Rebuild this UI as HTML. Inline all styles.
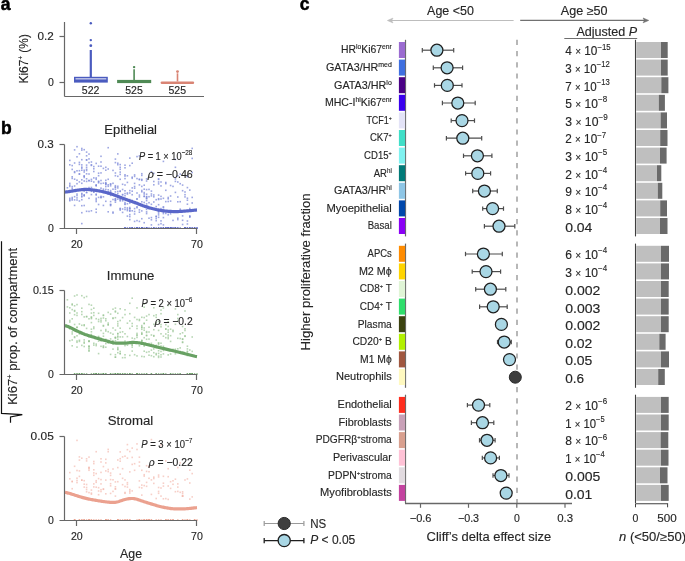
<!DOCTYPE html>
<html><head><meta charset="utf-8"><style>
html,body{margin:0;padding:0;background:#fff;width:685px;height:561px;overflow:hidden}
svg{display:block;font-family:"Liberation Sans", sans-serif;will-change:transform}
text{stroke:#262626;stroke-width:0.14px}
</style></head><body>
<svg width="685" height="561" viewBox="0 0 685 561">
<text x="0.80" y="9.70" font-size="17.5" text-anchor="start" fill="#000" font-weight="bold" style="stroke:#000;stroke-width:0.5px">a</text>
<text x="0.90" y="133.50" font-size="17.5" text-anchor="start" fill="#000" font-weight="bold" style="stroke:#000;stroke-width:0.5px">b</text>
<text x="299.80" y="9.70" font-size="17.5" text-anchor="start" fill="#000" font-weight="bold" style="stroke:#000;stroke-width:0.5px">c</text>
<line x1="64.50" y1="22.00" x2="64.50" y2="96.50" stroke="#676767" stroke-width="1.2" />
<line x1="64.50" y1="96.50" x2="204.00" y2="96.50" stroke="#676767" stroke-width="1.2" />
<line x1="59.50" y1="36.50" x2="64.50" y2="36.50" stroke="#676767" stroke-width="1.2" />
<text x="53.80" y="39.90" font-size="10.5" text-anchor="end" fill="#262626" font-weight="normal" textLength="16.30" lengthAdjust="spacingAndGlyphs" >0.2</text>
<line x1="59.50" y1="82.50" x2="64.50" y2="82.50" stroke="#676767" stroke-width="1.2" />
<text x="53.80" y="85.90" font-size="10.5" text-anchor="end" fill="#262626" font-weight="normal" >0</text>
<text transform="translate(27.6,58.8) rotate(-90)" font-size="12.6" text-anchor="middle" fill="#262626" textLength="49.5" lengthAdjust="spacingAndGlyphs">Ki67<tspan font-size="6.5" dy="-4.8">+</tspan><tspan dy="4.8"> (%)</tspan></text>
<line x1="90.8" y1="50" x2="90.8" y2="77" stroke="#4a5bbf" stroke-width="2.2"/>
<circle cx="90.8" cy="23.3" r="1.2" fill="#4a5bbf"/>
<circle cx="90.8" cy="40.1" r="1.2" fill="#4a5bbf"/>
<circle cx="90.8" cy="45.7" r="1.4" fill="#4a5bbf"/>
<rect x="74.00" y="76.80" width="33.80" height="5.80" fill="#4a5bbf" />
<rect x="75.50" y="78.30" width="30.80" height="1.10" fill="#e4e6f6" />
<line x1="134.1" y1="69.3" x2="134.1" y2="80" stroke="#4f8a55" stroke-width="1.6"/>
<circle cx="134.1" cy="67.1" r="1.2" fill="#4f8a55"/>
<rect x="117.10" y="79.90" width="34.10" height="3.20" fill="#4f8a55" />
<line x1="177.5" y1="73.3" x2="177.5" y2="81.5" stroke="#d98474" stroke-width="1.6"/>
<circle cx="177.5" cy="71.6" r="1.4" fill="#d98474"/>
<rect x="160.6" y="81.5" width="33.6" height="2.6" rx="1.3" fill="#d98474"/>
<text x="90.60" y="94.00" font-size="10.5" text-anchor="middle" fill="#262626" font-weight="normal" textLength="17.60" lengthAdjust="spacingAndGlyphs" >522</text>
<text x="134.00" y="94.00" font-size="10.5" text-anchor="middle" fill="#262626" font-weight="normal" textLength="17.60" lengthAdjust="spacingAndGlyphs" >525</text>
<text x="177.30" y="94.00" font-size="10.5" text-anchor="middle" fill="#262626" font-weight="normal" textLength="17.60" lengthAdjust="spacingAndGlyphs" >525</text>
<text x="104.30" y="133.70" font-size="12" text-anchor="start" fill="#262626" font-weight="normal" textLength="52.70" lengthAdjust="spacingAndGlyphs" >Epithelial</text>
<g fill="#7a86d8" fill-opacity="0.72">
<rect x="119.4" y="168.5" width="1.6" height="1.6"/>
<rect x="81.0" y="222.8" width="1.6" height="1.6"/>
<rect x="191.4" y="147.6" width="1.6" height="1.6"/>
<rect x="109.8" y="200.8" width="1.6" height="1.6"/>
<rect x="88.2" y="186.8" width="1.6" height="1.6"/>
<rect x="81.0" y="198.9" width="1.6" height="1.6"/>
<rect x="114.6" y="191.1" width="1.6" height="1.6"/>
<rect x="93.0" y="177.1" width="1.6" height="1.6"/>
<rect x="133.8" y="187.4" width="1.6" height="1.6"/>
<rect x="109.8" y="194.6" width="1.6" height="1.6"/>
<rect x="100.2" y="179.7" width="1.6" height="1.6"/>
<rect x="124.2" y="206.8" width="1.6" height="1.6"/>
<rect x="167.4" y="211.7" width="1.6" height="1.6"/>
<rect x="85.8" y="173.0" width="1.6" height="1.6"/>
<rect x="81.0" y="195.2" width="1.6" height="1.6"/>
<rect x="131.4" y="176.4" width="1.6" height="1.6"/>
<rect x="189.0" y="215.7" width="1.6" height="1.6"/>
<rect x="157.8" y="209.0" width="1.6" height="1.6"/>
<rect x="191.4" y="209.0" width="1.6" height="1.6"/>
<rect x="117.0" y="190.7" width="1.6" height="1.6"/>
<rect x="71.4" y="177.6" width="1.6" height="1.6"/>
<rect x="114.6" y="161.8" width="1.6" height="1.6"/>
<rect x="131.4" y="162.4" width="1.6" height="1.6"/>
<rect x="107.4" y="146.9" width="1.6" height="1.6"/>
<rect x="145.8" y="205.3" width="1.6" height="1.6"/>
<rect x="97.8" y="180.5" width="1.6" height="1.6"/>
<rect x="131.4" y="187.1" width="1.6" height="1.6"/>
<rect x="71.4" y="199.2" width="1.6" height="1.6"/>
<rect x="107.4" y="184.0" width="1.6" height="1.6"/>
<rect x="157.8" y="198.7" width="1.6" height="1.6"/>
<rect x="109.8" y="191.0" width="1.6" height="1.6"/>
<rect x="109.8" y="189.8" width="1.6" height="1.6"/>
<rect x="76.2" y="194.8" width="1.6" height="1.6"/>
<rect x="145.8" y="203.1" width="1.6" height="1.6"/>
<rect x="160.2" y="207.8" width="1.6" height="1.6"/>
<rect x="138.6" y="209.1" width="1.6" height="1.6"/>
<rect x="81.0" y="149.3" width="1.6" height="1.6"/>
<rect x="100.2" y="196.7" width="1.6" height="1.6"/>
<rect x="181.8" y="184.3" width="1.6" height="1.6"/>
<rect x="126.6" y="207.1" width="1.6" height="1.6"/>
<rect x="114.6" y="158.3" width="1.6" height="1.6"/>
<rect x="145.8" y="197.4" width="1.6" height="1.6"/>
<rect x="88.2" y="161.8" width="1.6" height="1.6"/>
<rect x="71.4" y="185.8" width="1.6" height="1.6"/>
<rect x="129.0" y="208.0" width="1.6" height="1.6"/>
<rect x="129.0" y="189.8" width="1.6" height="1.6"/>
<rect x="112.2" y="211.3" width="1.6" height="1.6"/>
<rect x="117.0" y="198.3" width="1.6" height="1.6"/>
<rect x="129.0" y="215.8" width="1.6" height="1.6"/>
<rect x="85.8" y="159.1" width="1.6" height="1.6"/>
<rect x="78.6" y="163.6" width="1.6" height="1.6"/>
<rect x="136.2" y="206.9" width="1.6" height="1.6"/>
<rect x="83.4" y="194.1" width="1.6" height="1.6"/>
<rect x="73.8" y="162.2" width="1.6" height="1.6"/>
<rect x="124.2" y="203.6" width="1.6" height="1.6"/>
<rect x="129.0" y="200.6" width="1.6" height="1.6"/>
<rect x="131.4" y="193.9" width="1.6" height="1.6"/>
<rect x="136.2" y="198.3" width="1.6" height="1.6"/>
<rect x="119.4" y="171.3" width="1.6" height="1.6"/>
<rect x="78.6" y="169.9" width="1.6" height="1.6"/>
<rect x="85.8" y="166.5" width="1.6" height="1.6"/>
<rect x="145.8" y="193.4" width="1.6" height="1.6"/>
<rect x="162.6" y="160.6" width="1.6" height="1.6"/>
<rect x="138.6" y="155.1" width="1.6" height="1.6"/>
<rect x="119.4" y="190.3" width="1.6" height="1.6"/>
<rect x="184.2" y="196.1" width="1.6" height="1.6"/>
<rect x="179.4" y="208.4" width="1.6" height="1.6"/>
<rect x="143.4" y="188.4" width="1.6" height="1.6"/>
<rect x="191.4" y="157.6" width="1.6" height="1.6"/>
<rect x="76.2" y="145.9" width="1.6" height="1.6"/>
<rect x="143.4" y="195.4" width="1.6" height="1.6"/>
<rect x="179.4" y="182.9" width="1.6" height="1.6"/>
<rect x="112.2" y="198.7" width="1.6" height="1.6"/>
<rect x="157.8" y="210.2" width="1.6" height="1.6"/>
<rect x="95.4" y="162.6" width="1.6" height="1.6"/>
<rect x="93.0" y="168.0" width="1.6" height="1.6"/>
<rect x="133.8" y="201.5" width="1.6" height="1.6"/>
<rect x="119.4" y="207.6" width="1.6" height="1.6"/>
<rect x="117.0" y="162.4" width="1.6" height="1.6"/>
<rect x="167.4" y="200.7" width="1.6" height="1.6"/>
<rect x="150.6" y="190.3" width="1.6" height="1.6"/>
<rect x="179.4" y="200.9" width="1.6" height="1.6"/>
<rect x="165.0" y="212.6" width="1.6" height="1.6"/>
<rect x="124.2" y="201.7" width="1.6" height="1.6"/>
<rect x="119.4" y="163.8" width="1.6" height="1.6"/>
<rect x="186.6" y="197.4" width="1.6" height="1.6"/>
<rect x="174.6" y="178.1" width="1.6" height="1.6"/>
<rect x="114.6" y="186.8" width="1.6" height="1.6"/>
<rect x="157.8" y="223.8" width="1.6" height="1.6"/>
<rect x="165.0" y="181.7" width="1.6" height="1.6"/>
<rect x="160.2" y="198.2" width="1.6" height="1.6"/>
<rect x="112.2" y="169.6" width="1.6" height="1.6"/>
<rect x="138.6" y="203.4" width="1.6" height="1.6"/>
<rect x="81.0" y="182.5" width="1.6" height="1.6"/>
<rect x="124.2" y="164.4" width="1.6" height="1.6"/>
<rect x="83.4" y="175.4" width="1.6" height="1.6"/>
<rect x="133.8" y="175.6" width="1.6" height="1.6"/>
<rect x="153.0" y="194.2" width="1.6" height="1.6"/>
<rect x="93.0" y="191.1" width="1.6" height="1.6"/>
<rect x="95.4" y="194.2" width="1.6" height="1.6"/>
<rect x="95.4" y="197.6" width="1.6" height="1.6"/>
<rect x="119.4" y="199.1" width="1.6" height="1.6"/>
<rect x="124.2" y="177.8" width="1.6" height="1.6"/>
<rect x="83.4" y="204.7" width="1.6" height="1.6"/>
<rect x="150.6" y="206.9" width="1.6" height="1.6"/>
<rect x="95.4" y="184.1" width="1.6" height="1.6"/>
<rect x="133.8" y="182.6" width="1.6" height="1.6"/>
<rect x="107.4" y="193.1" width="1.6" height="1.6"/>
<rect x="114.6" y="198.0" width="1.6" height="1.6"/>
<rect x="191.4" y="202.2" width="1.6" height="1.6"/>
<rect x="155.4" y="215.4" width="1.6" height="1.6"/>
<rect x="97.8" y="165.4" width="1.6" height="1.6"/>
<rect x="150.6" y="216.8" width="1.6" height="1.6"/>
<rect x="131.4" y="190.4" width="1.6" height="1.6"/>
<rect x="126.6" y="193.2" width="1.6" height="1.6"/>
<rect x="189.0" y="216.3" width="1.6" height="1.6"/>
<rect x="131.4" y="210.0" width="1.6" height="1.6"/>
<rect x="109.8" y="183.2" width="1.6" height="1.6"/>
<rect x="160.2" y="185.1" width="1.6" height="1.6"/>
<rect x="138.6" y="196.1" width="1.6" height="1.6"/>
<rect x="155.4" y="217.8" width="1.6" height="1.6"/>
<rect x="181.8" y="219.5" width="1.6" height="1.6"/>
<rect x="153.0" y="180.7" width="1.6" height="1.6"/>
<rect x="150.6" y="170.9" width="1.6" height="1.6"/>
<rect x="81.0" y="147.7" width="1.6" height="1.6"/>
<rect x="157.8" y="214.1" width="1.6" height="1.6"/>
<rect x="85.8" y="178.0" width="1.6" height="1.6"/>
<rect x="153.0" y="184.0" width="1.6" height="1.6"/>
<rect x="138.6" y="184.1" width="1.6" height="1.6"/>
<rect x="141.0" y="174.6" width="1.6" height="1.6"/>
<rect x="131.4" y="177.5" width="1.6" height="1.6"/>
<rect x="119.4" y="200.1" width="1.6" height="1.6"/>
<rect x="129.0" y="210.1" width="1.6" height="1.6"/>
<rect x="83.4" y="189.0" width="1.6" height="1.6"/>
<rect x="107.4" y="168.2" width="1.6" height="1.6"/>
<rect x="124.2" y="167.0" width="1.6" height="1.6"/>
<rect x="177.0" y="217.4" width="1.6" height="1.6"/>
<rect x="186.6" y="175.1" width="1.6" height="1.6"/>
<rect x="174.6" y="191.6" width="1.6" height="1.6"/>
<rect x="114.6" y="199.6" width="1.6" height="1.6"/>
<rect x="71.4" y="197.9" width="1.6" height="1.6"/>
<rect x="160.2" y="220.1" width="1.6" height="1.6"/>
<rect x="81.0" y="158.9" width="1.6" height="1.6"/>
<rect x="69.0" y="159.6" width="1.6" height="1.6"/>
<rect x="76.2" y="193.3" width="1.6" height="1.6"/>
<rect x="124.2" y="184.2" width="1.6" height="1.6"/>
<rect x="76.2" y="197.1" width="1.6" height="1.6"/>
<rect x="141.0" y="178.6" width="1.6" height="1.6"/>
<rect x="126.6" y="215.3" width="1.6" height="1.6"/>
<rect x="95.4" y="211.5" width="1.6" height="1.6"/>
<rect x="95.4" y="184.8" width="1.6" height="1.6"/>
<rect x="121.8" y="208.2" width="1.6" height="1.6"/>
<rect x="169.8" y="200.3" width="1.6" height="1.6"/>
<rect x="189.0" y="215.2" width="1.6" height="1.6"/>
<rect x="102.6" y="189.6" width="1.6" height="1.6"/>
<rect x="88.2" y="179.9" width="1.6" height="1.6"/>
<rect x="105.0" y="169.4" width="1.6" height="1.6"/>
<rect x="85.8" y="151.3" width="1.6" height="1.6"/>
<rect x="150.6" y="219.0" width="1.6" height="1.6"/>
<rect x="129.0" y="202.2" width="1.6" height="1.6"/>
<rect x="107.4" y="178.5" width="1.6" height="1.6"/>
<rect x="78.6" y="200.2" width="1.6" height="1.6"/>
<rect x="73.8" y="204.6" width="1.6" height="1.6"/>
<rect x="153.0" y="172.6" width="1.6" height="1.6"/>
<rect x="133.8" y="213.2" width="1.6" height="1.6"/>
<rect x="105.0" y="183.1" width="1.6" height="1.6"/>
<rect x="141.0" y="172.9" width="1.6" height="1.6"/>
<rect x="81.0" y="164.1" width="1.6" height="1.6"/>
<rect x="121.8" y="188.7" width="1.6" height="1.6"/>
<rect x="177.0" y="196.2" width="1.6" height="1.6"/>
<rect x="155.4" y="205.8" width="1.6" height="1.6"/>
<rect x="105.0" y="200.5" width="1.6" height="1.6"/>
<rect x="121.8" y="197.2" width="1.6" height="1.6"/>
<rect x="85.8" y="180.6" width="1.6" height="1.6"/>
<rect x="85.8" y="168.5" width="1.6" height="1.6"/>
<rect x="112.2" y="182.5" width="1.6" height="1.6"/>
<rect x="143.4" y="221.9" width="1.6" height="1.6"/>
<rect x="90.6" y="164.6" width="1.6" height="1.6"/>
<rect x="81.0" y="196.1" width="1.6" height="1.6"/>
<rect x="71.4" y="196.7" width="1.6" height="1.6"/>
<rect x="177.0" y="211.3" width="1.6" height="1.6"/>
<rect x="119.4" y="190.6" width="1.6" height="1.6"/>
<rect x="177.0" y="218.8" width="1.6" height="1.6"/>
<rect x="157.8" y="178.6" width="1.6" height="1.6"/>
<rect x="109.8" y="204.8" width="1.6" height="1.6"/>
<rect x="76.2" y="199.2" width="1.6" height="1.6"/>
<rect x="78.6" y="161.6" width="1.6" height="1.6"/>
<rect x="97.8" y="196.6" width="1.6" height="1.6"/>
<rect x="186.6" y="175.9" width="1.6" height="1.6"/>
<rect x="143.4" y="184.4" width="1.6" height="1.6"/>
<rect x="162.6" y="224.1" width="1.6" height="1.6"/>
<rect x="73.8" y="189.4" width="1.6" height="1.6"/>
<rect x="85.8" y="191.9" width="1.6" height="1.6"/>
<rect x="162.6" y="206.1" width="1.6" height="1.6"/>
<rect x="153.0" y="196.0" width="1.6" height="1.6"/>
<rect x="83.4" y="190.3" width="1.6" height="1.6"/>
<rect x="133.8" y="220.6" width="1.6" height="1.6"/>
<rect x="131.4" y="199.7" width="1.6" height="1.6"/>
<rect x="141.0" y="189.7" width="1.6" height="1.6"/>
<rect x="88.2" y="210.6" width="1.6" height="1.6"/>
<rect x="102.6" y="191.7" width="1.6" height="1.6"/>
<rect x="133.8" y="210.7" width="1.6" height="1.6"/>
<rect x="145.8" y="211.1" width="1.6" height="1.6"/>
<rect x="124.2" y="194.9" width="1.6" height="1.6"/>
<rect x="88.2" y="197.5" width="1.6" height="1.6"/>
<rect x="160.2" y="195.6" width="1.6" height="1.6"/>
<rect x="119.4" y="166.5" width="1.6" height="1.6"/>
<rect x="126.6" y="209.8" width="1.6" height="1.6"/>
<rect x="143.4" y="195.7" width="1.6" height="1.6"/>
<rect x="90.6" y="164.0" width="1.6" height="1.6"/>
<rect x="141.0" y="201.0" width="1.6" height="1.6"/>
<rect x="102.6" y="204.6" width="1.6" height="1.6"/>
<rect x="157.8" y="210.9" width="1.6" height="1.6"/>
<rect x="93.0" y="181.2" width="1.6" height="1.6"/>
<rect x="71.4" y="176.0" width="1.6" height="1.6"/>
<rect x="186.6" y="199.4" width="1.6" height="1.6"/>
<rect x="121.8" y="183.5" width="1.6" height="1.6"/>
<rect x="83.4" y="195.1" width="1.6" height="1.6"/>
<rect x="85.8" y="159.2" width="1.6" height="1.6"/>
<rect x="71.4" y="189.7" width="1.6" height="1.6"/>
<rect x="119.4" y="178.5" width="1.6" height="1.6"/>
<rect x="136.2" y="177.8" width="1.6" height="1.6"/>
<rect x="169.8" y="213.0" width="1.6" height="1.6"/>
<rect x="83.4" y="194.5" width="1.6" height="1.6"/>
<rect x="162.6" y="206.6" width="1.6" height="1.6"/>
<rect x="93.0" y="165.8" width="1.6" height="1.6"/>
<rect x="93.0" y="189.0" width="1.6" height="1.6"/>
<rect x="169.8" y="195.2" width="1.6" height="1.6"/>
<rect x="114.6" y="199.5" width="1.6" height="1.6"/>
<rect x="117.0" y="192.8" width="1.6" height="1.6"/>
<rect x="114.6" y="198.3" width="1.6" height="1.6"/>
<rect x="133.8" y="174.1" width="1.6" height="1.6"/>
<rect x="157.8" y="181.2" width="1.6" height="1.6"/>
<rect x="105.0" y="166.5" width="1.6" height="1.6"/>
<rect x="157.8" y="212.3" width="1.6" height="1.6"/>
<rect x="73.8" y="195.9" width="1.6" height="1.6"/>
<rect x="69.0" y="198.9" width="1.6" height="1.6"/>
<rect x="81.0" y="167.4" width="1.6" height="1.6"/>
<rect x="167.4" y="214.0" width="1.6" height="1.6"/>
<rect x="172.2" y="210.3" width="1.6" height="1.6"/>
<rect x="162.6" y="210.6" width="1.6" height="1.6"/>
<rect x="73.8" y="178.4" width="1.6" height="1.6"/>
<rect x="136.2" y="198.1" width="1.6" height="1.6"/>
<rect x="150.6" y="193.2" width="1.6" height="1.6"/>
<rect x="148.2" y="188.6" width="1.6" height="1.6"/>
<rect x="141.0" y="217.9" width="1.6" height="1.6"/>
<rect x="95.4" y="193.4" width="1.6" height="1.6"/>
<rect x="141.0" y="185.6" width="1.6" height="1.6"/>
<rect x="145.8" y="188.8" width="1.6" height="1.6"/>
<rect x="141.0" y="179.5" width="1.6" height="1.6"/>
<rect x="81.0" y="179.0" width="1.6" height="1.6"/>
<rect x="85.8" y="169.7" width="1.6" height="1.6"/>
<rect x="73.8" y="199.1" width="1.6" height="1.6"/>
<rect x="124.2" y="208.7" width="1.6" height="1.6"/>
<rect x="85.8" y="164.3" width="1.6" height="1.6"/>
<rect x="78.6" y="153.0" width="1.6" height="1.6"/>
<rect x="100.2" y="172.1" width="1.6" height="1.6"/>
<rect x="145.8" y="195.7" width="1.6" height="1.6"/>
<rect x="109.8" y="203.6" width="1.6" height="1.6"/>
<rect x="69.0" y="185.6" width="1.6" height="1.6"/>
<rect x="97.8" y="174.9" width="1.6" height="1.6"/>
<rect x="150.6" y="203.5" width="1.6" height="1.6"/>
<rect x="126.6" y="181.6" width="1.6" height="1.6"/>
<rect x="136.2" y="155.8" width="1.6" height="1.6"/>
<rect x="138.6" y="194.3" width="1.6" height="1.6"/>
<rect x="181.8" y="215.1" width="1.6" height="1.6"/>
<rect x="184.2" y="191.2" width="1.6" height="1.6"/>
<rect x="153.0" y="207.6" width="1.6" height="1.6"/>
<rect x="95.4" y="184.8" width="1.6" height="1.6"/>
<rect x="143.4" y="201.7" width="1.6" height="1.6"/>
<rect x="129.0" y="207.9" width="1.6" height="1.6"/>
<rect x="100.2" y="155.5" width="1.6" height="1.6"/>
<rect x="71.4" y="191.0" width="1.6" height="1.6"/>
<rect x="71.4" y="164.8" width="1.6" height="1.6"/>
<rect x="155.4" y="198.9" width="1.6" height="1.6"/>
<rect x="121.8" y="200.0" width="1.6" height="1.6"/>
<rect x="145.8" y="199.8" width="1.6" height="1.6"/>
<rect x="95.4" y="200.7" width="1.6" height="1.6"/>
<rect x="165.0" y="182.8" width="1.6" height="1.6"/>
<rect x="114.6" y="194.7" width="1.6" height="1.6"/>
<rect x="136.2" y="206.0" width="1.6" height="1.6"/>
<rect x="148.2" y="195.9" width="1.6" height="1.6"/>
<rect x="136.2" y="219.8" width="1.6" height="1.6"/>
<rect x="109.8" y="203.9" width="1.6" height="1.6"/>
<rect x="119.4" y="209.3" width="1.6" height="1.6"/>
<rect x="129.0" y="206.7" width="1.6" height="1.6"/>
<rect x="102.6" y="167.6" width="1.6" height="1.6"/>
<rect x="102.6" y="188.3" width="1.6" height="1.6"/>
<rect x="78.6" y="173.2" width="1.6" height="1.6"/>
<rect x="172.2" y="185.6" width="1.6" height="1.6"/>
<rect x="100.2" y="182.7" width="1.6" height="1.6"/>
<rect x="90.6" y="180.4" width="1.6" height="1.6"/>
<rect x="107.4" y="211.0" width="1.6" height="1.6"/>
<rect x="162.6" y="197.5" width="1.6" height="1.6"/>
<rect x="124.2" y="192.7" width="1.6" height="1.6"/>
<rect x="162.6" y="216.8" width="1.6" height="1.6"/>
<rect x="105.0" y="182.6" width="1.6" height="1.6"/>
<rect x="117.0" y="175.5" width="1.6" height="1.6"/>
<rect x="73.8" y="170.9" width="1.6" height="1.6"/>
<rect x="102.6" y="196.0" width="1.6" height="1.6"/>
<rect x="157.8" y="194.3" width="1.6" height="1.6"/>
<rect x="105.0" y="185.8" width="1.6" height="1.6"/>
<rect x="95.4" y="178.5" width="1.6" height="1.6"/>
<rect x="177.0" y="210.0" width="1.6" height="1.6"/>
<rect x="126.6" y="175.0" width="1.6" height="1.6"/>
<rect x="186.6" y="220.2" width="1.6" height="1.6"/>
<rect x="143.4" y="191.8" width="1.6" height="1.6"/>
<rect x="112.2" y="188.4" width="1.6" height="1.6"/>
<rect x="114.6" y="172.2" width="1.6" height="1.6"/>
<rect x="121.8" y="198.7" width="1.6" height="1.6"/>
<rect x="90.6" y="189.7" width="1.6" height="1.6"/>
<rect x="145.8" y="178.1" width="1.6" height="1.6"/>
<rect x="148.2" y="207.8" width="1.6" height="1.6"/>
<rect x="126.6" y="192.1" width="1.6" height="1.6"/>
<rect x="174.6" y="158.6" width="1.6" height="1.6"/>
<rect x="97.8" y="172.4" width="1.6" height="1.6"/>
<rect x="100.2" y="161.2" width="1.6" height="1.6"/>
<rect x="177.0" y="181.2" width="1.6" height="1.6"/>
<rect x="121.8" y="193.7" width="1.6" height="1.6"/>
<rect x="90.6" y="178.6" width="1.6" height="1.6"/>
<rect x="97.8" y="180.9" width="1.6" height="1.6"/>
<rect x="143.4" y="193.2" width="1.6" height="1.6"/>
<rect x="162.6" y="211.4" width="1.6" height="1.6"/>
<rect x="129.0" y="157.3" width="1.6" height="1.6"/>
<rect x="88.2" y="153.3" width="1.6" height="1.6"/>
<rect x="114.6" y="186.1" width="1.6" height="1.6"/>
<rect x="141.0" y="191.0" width="1.6" height="1.6"/>
<rect x="121.8" y="211.6" width="1.6" height="1.6"/>
<rect x="145.8" y="196.3" width="1.6" height="1.6"/>
<rect x="88.2" y="179.7" width="1.6" height="1.6"/>
<rect x="138.6" y="220.6" width="1.6" height="1.6"/>
<rect x="69.0" y="197.5" width="1.6" height="1.6"/>
<rect x="114.6" y="174.9" width="1.6" height="1.6"/>
<rect x="138.6" y="178.8" width="1.6" height="1.6"/>
<rect x="129.0" y="192.2" width="1.6" height="1.6"/>
<rect x="73.8" y="185.2" width="1.6" height="1.6"/>
<rect x="81.0" y="166.3" width="1.6" height="1.6"/>
<rect x="95.4" y="199.1" width="1.6" height="1.6"/>
<rect x="81.0" y="169.4" width="1.6" height="1.6"/>
<rect x="150.6" y="224.1" width="1.6" height="1.6"/>
<rect x="93.0" y="170.7" width="1.6" height="1.6"/>
<rect x="145.8" y="212.8" width="1.6" height="1.6"/>
<rect x="88.2" y="158.1" width="1.6" height="1.6"/>
<rect x="141.0" y="210.1" width="1.6" height="1.6"/>
<rect x="153.0" y="201.2" width="1.6" height="1.6"/>
<rect x="109.8" y="183.4" width="1.6" height="1.6"/>
<rect x="117.0" y="187.1" width="1.6" height="1.6"/>
<rect x="100.2" y="187.4" width="1.6" height="1.6"/>
<rect x="100.2" y="196.6" width="1.6" height="1.6"/>
<rect x="191.4" y="210.1" width="1.6" height="1.6"/>
<rect x="107.4" y="191.0" width="1.6" height="1.6"/>
<rect x="172.2" y="219.6" width="1.6" height="1.6"/>
<rect x="129.0" y="213.8" width="1.6" height="1.6"/>
<rect x="181.8" y="189.9" width="1.6" height="1.6"/>
<rect x="126.6" y="208.5" width="1.6" height="1.6"/>
<rect x="78.6" y="173.2" width="1.6" height="1.6"/>
<rect x="73.8" y="149.1" width="1.6" height="1.6"/>
<rect x="90.6" y="161.2" width="1.6" height="1.6"/>
<rect x="83.4" y="148.9" width="1.6" height="1.6"/>
<rect x="85.8" y="191.4" width="1.6" height="1.6"/>
<rect x="181.8" y="223.7" width="1.6" height="1.6"/>
<rect x="121.8" y="194.1" width="1.6" height="1.6"/>
<rect x="66.6" y="187.0" width="1.6" height="1.6"/>
<rect x="90.6" y="210.0" width="1.6" height="1.6"/>
<rect x="129.0" y="164.8" width="1.6" height="1.6"/>
<rect x="162.6" y="212.8" width="1.6" height="1.6"/>
<rect x="95.4" y="208.4" width="1.6" height="1.6"/>
<rect x="105.0" y="181.9" width="1.6" height="1.6"/>
<rect x="119.4" y="198.4" width="1.6" height="1.6"/>
<rect x="76.2" y="156.0" width="1.6" height="1.6"/>
<rect x="165.0" y="189.5" width="1.6" height="1.6"/>
<rect x="124.2" y="174.0" width="1.6" height="1.6"/>
<rect x="157.8" y="203.9" width="1.6" height="1.6"/>
<rect x="129.0" y="198.8" width="1.6" height="1.6"/>
<rect x="93.0" y="189.7" width="1.6" height="1.6"/>
<rect x="169.8" y="184.7" width="1.6" height="1.6"/>
<rect x="81.0" y="192.7" width="1.6" height="1.6"/>
<rect x="133.8" y="207.8" width="1.6" height="1.6"/>
<rect x="114.6" y="184.9" width="1.6" height="1.6"/>
<rect x="90.6" y="193.8" width="1.6" height="1.6"/>
<rect x="167.4" y="196.7" width="1.6" height="1.6"/>
<rect x="93.0" y="191.2" width="1.6" height="1.6"/>
<rect x="90.6" y="190.5" width="1.6" height="1.6"/>
<rect x="157.8" y="183.1" width="1.6" height="1.6"/>
<rect x="124.2" y="175.3" width="1.6" height="1.6"/>
<rect x="126.6" y="203.0" width="1.6" height="1.6"/>
<rect x="160.2" y="181.2" width="1.6" height="1.6"/>
<rect x="155.4" y="216.0" width="1.6" height="1.6"/>
<rect x="145.8" y="208.6" width="1.6" height="1.6"/>
<rect x="129.0" y="210.1" width="1.6" height="1.6"/>
<rect x="157.8" y="197.9" width="1.6" height="1.6"/>
<rect x="107.4" y="185.5" width="1.6" height="1.6"/>
<rect x="157.8" y="216.5" width="1.6" height="1.6"/>
<rect x="97.8" y="203.7" width="1.6" height="1.6"/>
<rect x="165.0" y="200.8" width="1.6" height="1.6"/>
<rect x="71.4" y="168.6" width="1.6" height="1.6"/>
<rect x="114.6" y="201.4" width="1.6" height="1.6"/>
<rect x="83.4" y="175.2" width="1.6" height="1.6"/>
<rect x="76.2" y="182.9" width="1.6" height="1.6"/>
<rect x="90.6" y="186.7" width="1.6" height="1.6"/>
<rect x="95.4" y="177.2" width="1.6" height="1.6"/>
<rect x="105.0" y="183.8" width="1.6" height="1.6"/>
<rect x="124.2" y="203.1" width="1.6" height="1.6"/>
<rect x="73.8" y="171.7" width="1.6" height="1.6"/>
<rect x="88.2" y="173.2" width="1.6" height="1.6"/>
<rect x="155.4" y="219.9" width="1.6" height="1.6"/>
<rect x="117.0" y="185.5" width="1.6" height="1.6"/>
<rect x="160.2" y="222.9" width="1.6" height="1.6"/>
<rect x="107.4" y="189.0" width="1.6" height="1.6"/>
<rect x="189.0" y="189.3" width="1.6" height="1.6"/>
<rect x="105.0" y="188.6" width="1.6" height="1.6"/>
<rect x="107.4" y="193.0" width="1.6" height="1.6"/>
<rect x="100.2" y="165.4" width="1.6" height="1.6"/>
<rect x="145.8" y="180.2" width="1.6" height="1.6"/>
<rect x="102.6" y="182.4" width="1.6" height="1.6"/>
<rect x="117.0" y="163.9" width="1.6" height="1.6"/>
<rect x="189.0" y="207.7" width="1.6" height="1.6"/>
<rect x="78.6" y="189.3" width="1.6" height="1.6"/>
<rect x="138.6" y="178.5" width="1.6" height="1.6"/>
<rect x="100.2" y="195.6" width="1.6" height="1.6"/>
<rect x="162.6" y="208.6" width="1.6" height="1.6"/>
<rect x="78.6" y="181.1" width="1.6" height="1.6"/>
<rect x="83.4" y="171.2" width="1.6" height="1.6"/>
<rect x="148.2" y="201.9" width="1.6" height="1.6"/>
<rect x="76.2" y="179.4" width="1.6" height="1.6"/>
<rect x="186.6" y="203.4" width="1.6" height="1.6"/>
<rect x="177.0" y="201.0" width="1.6" height="1.6"/>
<rect x="83.4" y="169.5" width="1.6" height="1.6"/>
<rect x="69.0" y="164.0" width="1.6" height="1.6"/>
<rect x="69.0" y="199.9" width="1.6" height="1.6"/>
<rect x="167.4" y="198.0" width="1.6" height="1.6"/>
<rect x="191.4" y="171.7" width="1.6" height="1.6"/>
<rect x="69.0" y="182.6" width="1.6" height="1.6"/>
<rect x="85.8" y="210.5" width="1.6" height="1.6"/>
<rect x="133.8" y="185.7" width="1.6" height="1.6"/>
<rect x="69.0" y="184.3" width="1.6" height="1.6"/>
<rect x="145.8" y="205.4" width="1.6" height="1.6"/>
<rect x="174.6" y="180.6" width="1.6" height="1.6"/>
<rect x="81.0" y="204.9" width="1.6" height="1.6"/>
<rect x="109.8" y="185.0" width="1.6" height="1.6"/>
<rect x="119.4" y="173.6" width="1.6" height="1.6"/>
<rect x="177.0" y="175.0" width="1.6" height="1.6"/>
<rect x="186.6" y="186.8" width="1.6" height="1.6"/>
<rect x="76.2" y="170.0" width="1.6" height="1.6"/>
<rect x="150.6" y="195.1" width="1.6" height="1.6"/>
<rect x="71.4" y="187.5" width="1.6" height="1.6"/>
<rect x="138.6" y="211.4" width="1.6" height="1.6"/>
<rect x="184.2" y="193.9" width="1.6" height="1.6"/>
<rect x="85.8" y="155.0" width="1.6" height="1.6"/>
<rect x="97.8" y="182.0" width="1.6" height="1.6"/>
<rect x="136.2" y="192.2" width="1.6" height="1.6"/>
<rect x="191.4" y="196.6" width="1.6" height="1.6"/>
<rect x="174.6" y="166.5" width="1.6" height="1.6"/>
<rect x="112.2" y="212.3" width="1.6" height="1.6"/>
<rect x="78.6" y="189.5" width="1.6" height="1.6"/>
<rect x="105.0" y="179.5" width="1.6" height="1.6"/>
<rect x="148.2" y="217.4" width="1.6" height="1.6"/>
<rect x="157.8" y="178.1" width="1.6" height="1.6"/>
<rect x="83.4" y="180.2" width="1.6" height="1.6"/>
<rect x="145.8" y="197.9" width="1.6" height="1.6"/>
<rect x="114.6" y="188.5" width="1.6" height="1.6"/>
<rect x="179.4" y="173.3" width="1.6" height="1.6"/>
<rect x="119.4" y="208.2" width="1.6" height="1.6"/>
<rect x="81.0" y="193.5" width="1.6" height="1.6"/>
<rect x="81.0" y="211.9" width="1.6" height="1.6"/>
<rect x="186.6" y="223.2" width="1.6" height="1.6"/>
<rect x="124.2" y="190.0" width="1.6" height="1.6"/>
<rect x="129.0" y="218.8" width="1.6" height="1.6"/>
<rect x="117.0" y="153.1" width="1.6" height="1.6"/>
<rect x="83.4" y="176.6" width="1.6" height="1.6"/>
</g>
<g fill="#5a67c9" fill-opacity="0.8">
<rect x="169.9" y="227.2" width="1.4" height="1.8"/>
<rect x="167.5" y="227.2" width="1.4" height="1.8"/>
<rect x="193.9" y="227.2" width="1.4" height="1.8"/>
<rect x="141.1" y="227.2" width="1.4" height="1.8"/>
<rect x="169.9" y="227.2" width="1.4" height="1.8"/>
<rect x="141.1" y="227.2" width="1.4" height="1.8"/>
<rect x="167.5" y="227.2" width="1.4" height="1.8"/>
<rect x="169.9" y="227.2" width="1.4" height="1.8"/>
<rect x="148.3" y="227.2" width="1.4" height="1.8"/>
<rect x="131.5" y="227.2" width="1.4" height="1.8"/>
<rect x="153.1" y="227.2" width="1.4" height="1.8"/>
<rect x="169.9" y="227.2" width="1.4" height="1.8"/>
<rect x="167.5" y="227.2" width="1.4" height="1.8"/>
<rect x="145.9" y="227.2" width="1.4" height="1.8"/>
<rect x="141.1" y="227.2" width="1.4" height="1.8"/>
<rect x="172.3" y="227.2" width="1.4" height="1.8"/>
<rect x="153.1" y="227.2" width="1.4" height="1.8"/>
<rect x="189.1" y="227.2" width="1.4" height="1.8"/>
<rect x="136.3" y="227.2" width="1.4" height="1.8"/>
<rect x="179.5" y="227.2" width="1.4" height="1.8"/>
<rect x="189.1" y="227.2" width="1.4" height="1.8"/>
<rect x="141.1" y="227.2" width="1.4" height="1.8"/>
<rect x="174.7" y="227.2" width="1.4" height="1.8"/>
<rect x="124.3" y="227.2" width="1.4" height="1.8"/>
<rect x="141.1" y="227.2" width="1.4" height="1.8"/>
<rect x="150.7" y="227.2" width="1.4" height="1.8"/>
<rect x="131.5" y="227.2" width="1.4" height="1.8"/>
<rect x="155.5" y="227.2" width="1.4" height="1.8"/>
<rect x="133.9" y="227.2" width="1.4" height="1.8"/>
<rect x="189.1" y="227.2" width="1.4" height="1.8"/>
<rect x="184.3" y="227.2" width="1.4" height="1.8"/>
<rect x="165.1" y="227.2" width="1.4" height="1.8"/>
<rect x="145.9" y="227.2" width="1.4" height="1.8"/>
<rect x="162.7" y="227.2" width="1.4" height="1.8"/>
<rect x="191.5" y="227.2" width="1.4" height="1.8"/>
<rect x="169.9" y="227.2" width="1.4" height="1.8"/>
<rect x="186.7" y="227.2" width="1.4" height="1.8"/>
<rect x="165.1" y="227.2" width="1.4" height="1.8"/>
<rect x="126.7" y="227.2" width="1.4" height="1.8"/>
<rect x="174.7" y="227.2" width="1.4" height="1.8"/>
<rect x="136.3" y="227.2" width="1.4" height="1.8"/>
<rect x="165.1" y="227.2" width="1.4" height="1.8"/>
<rect x="184.3" y="227.2" width="1.4" height="1.8"/>
<rect x="165.1" y="227.2" width="1.4" height="1.8"/>
<rect x="169.9" y="227.2" width="1.4" height="1.8"/>
<rect x="141.1" y="227.2" width="1.4" height="1.8"/>
<rect x="145.9" y="227.2" width="1.4" height="1.8"/>
<rect x="131.5" y="227.2" width="1.4" height="1.8"/>
<rect x="167.5" y="227.2" width="1.4" height="1.8"/>
<rect x="157.9" y="227.2" width="1.4" height="1.8"/>
<rect x="145.9" y="227.2" width="1.4" height="1.8"/>
<rect x="191.5" y="227.2" width="1.4" height="1.8"/>
<rect x="131.5" y="227.2" width="1.4" height="1.8"/>
<rect x="196.3" y="227.2" width="1.4" height="1.8"/>
<rect x="193.9" y="227.2" width="1.4" height="1.8"/>
<rect x="145.9" y="227.2" width="1.4" height="1.8"/>
<rect x="124.3" y="227.2" width="1.4" height="1.8"/>
<rect x="167.5" y="227.2" width="1.4" height="1.8"/>
<rect x="153.1" y="227.2" width="1.4" height="1.8"/>
<rect x="162.7" y="227.2" width="1.4" height="1.8"/>
<rect x="193.9" y="227.2" width="1.4" height="1.8"/>
<rect x="157.9" y="227.2" width="1.4" height="1.8"/>
<rect x="160.3" y="227.2" width="1.4" height="1.8"/>
<rect x="136.3" y="227.2" width="1.4" height="1.8"/>
<rect x="196.3" y="227.2" width="1.4" height="1.8"/>
<rect x="184.3" y="227.2" width="1.4" height="1.8"/>
<rect x="169.9" y="227.2" width="1.4" height="1.8"/>
<rect x="129.1" y="227.2" width="1.4" height="1.8"/>
<rect x="177.1" y="227.2" width="1.4" height="1.8"/>
<rect x="141.1" y="227.2" width="1.4" height="1.8"/>
<rect x="174.7" y="227.2" width="1.4" height="1.8"/>
<rect x="143.5" y="227.2" width="1.4" height="1.8"/>
<rect x="186.7" y="227.2" width="1.4" height="1.8"/>
<rect x="138.7" y="227.2" width="1.4" height="1.8"/>
<rect x="124.3" y="227.2" width="1.4" height="1.8"/>
<rect x="138.7" y="227.2" width="1.4" height="1.8"/>
<rect x="174.7" y="227.2" width="1.4" height="1.8"/>
<rect x="129.1" y="227.2" width="1.4" height="1.8"/>
<rect x="136.3" y="227.2" width="1.4" height="1.8"/>
<rect x="162.7" y="227.2" width="1.4" height="1.8"/>
<rect x="177.1" y="227.2" width="1.4" height="1.8"/>
<rect x="136.3" y="227.2" width="1.4" height="1.8"/>
<rect x="167.5" y="227.2" width="1.4" height="1.8"/>
<rect x="172.3" y="227.2" width="1.4" height="1.8"/>
<rect x="174.7" y="227.2" width="1.4" height="1.8"/>
<rect x="169.9" y="227.2" width="1.4" height="1.8"/>
<rect x="184.3" y="227.2" width="1.4" height="1.8"/>
<rect x="169.9" y="227.2" width="1.4" height="1.8"/>
<rect x="184.3" y="227.2" width="1.4" height="1.8"/>
<rect x="160.3" y="227.2" width="1.4" height="1.8"/>
</g>
<path d="M65.0,192.03 L66.0,191.96 L67.0,191.85 L68.0,191.71 L69.0,191.56 L70.0,191.40 L71.0,191.23 L72.0,191.05 L73.0,190.88 L74.0,190.71 L75.0,190.55 L76.0,190.41 L77.0,190.26 L78.0,190.12 L79.0,189.99 L80.0,189.85 L81.0,189.73 L82.0,189.62 L83.0,189.53 L84.0,189.47 L85.0,189.44 L86.0,189.43 L87.0,189.45 L88.0,189.50 L89.0,189.56 L90.0,189.65 L91.0,189.75 L92.0,189.87 L93.0,190.00 L94.0,190.14 L95.0,190.29 L96.0,190.45 L97.0,190.61 L98.0,190.78 L99.0,190.95 L100.0,191.12 L101.0,191.30 L102.0,191.50 L103.0,191.71 L104.0,191.94 L105.0,192.18 L106.0,192.44 L107.0,192.70 L108.0,192.98 L109.0,193.27 L110.0,193.57 L111.0,193.89 L112.0,194.22 L113.0,194.57 L114.0,194.92 L115.0,195.28 L116.0,195.65 L117.0,196.02 L118.0,196.39 L119.0,196.77 L120.0,197.15 L121.0,197.54 L122.0,197.94 L123.0,198.33 L124.0,198.72 L125.0,199.10 L126.0,199.48 L127.0,199.84 L128.0,200.20 L129.0,200.55 L130.0,200.90 L131.0,201.24 L132.0,201.58 L133.0,201.92 L134.0,202.27 L135.0,202.63 L136.0,203.00 L137.0,203.37 L138.0,203.76 L139.0,204.15 L140.0,204.54 L141.0,204.93 L142.0,205.31 L143.0,205.69 L144.0,206.04 L145.0,206.39 L146.0,206.72 L147.0,207.04 L148.0,207.36 L149.0,207.67 L150.0,207.97 L151.0,208.26 L152.0,208.53 L153.0,208.80 L154.0,209.04 L155.0,209.28 L156.0,209.50 L157.0,209.71 L158.0,209.91 L159.0,210.11 L160.0,210.29 L161.0,210.46 L162.0,210.62 L163.0,210.76 L164.0,210.88 L165.0,210.99 L166.0,211.08 L167.0,211.17 L168.0,211.25 L169.0,211.32 L170.0,211.39 L171.0,211.45 L172.0,211.50 L173.0,211.54 L174.0,211.57 L175.0,211.58 L176.0,211.58 L177.0,211.56 L178.0,211.53 L179.0,211.49 L180.0,211.44 L181.0,211.38 L182.0,211.31 L183.0,211.24 L184.0,211.17 L185.0,211.10 L186.0,211.02 L187.0,210.94 L188.0,210.86 L189.0,210.77 L190.0,210.67 L191.0,210.57 L192.0,210.47 L193.0,210.36 L194.0,210.25 L195.0,210.14 L196.0,210.04 L197.0,209.97" fill="none" stroke="#5a67c9" stroke-width="3.2" stroke-linejoin="round"/>
<line x1="64.50" y1="144.50" x2="64.50" y2="228.50" stroke="#676767" stroke-width="1.2" />
<line x1="59.50" y1="228.50" x2="197.00" y2="228.50" stroke="#676767" stroke-width="1.2" />
<line x1="59.50" y1="144.50" x2="64.50" y2="144.50" stroke="#676767" stroke-width="1.2" />
<text x="53.80" y="147.90" font-size="10.5" text-anchor="end" fill="#262626" font-weight="normal" textLength="16.20" lengthAdjust="spacingAndGlyphs" >0.3</text>
<text x="53.80" y="231.90" font-size="10.5" text-anchor="end" fill="#262626" font-weight="normal" >0</text>
<line x1="76.50" y1="228.50" x2="76.50" y2="234.00" stroke="#676767" stroke-width="1.2" />
<line x1="196.50" y1="228.50" x2="196.50" y2="234.00" stroke="#676767" stroke-width="1.2" />
<text x="76.80" y="247.80" font-size="10.5" text-anchor="middle" fill="#262626" font-weight="normal" textLength="11.80" lengthAdjust="spacingAndGlyphs" >20</text>
<text x="196.90" y="247.80" font-size="10.5" text-anchor="middle" fill="#262626" font-weight="normal" textLength="11.80" lengthAdjust="spacingAndGlyphs" >70</text>
<text x="138.90" y="160.3" font-size="10.2" fill="#262626" textLength="53.5" lengthAdjust="spacingAndGlyphs"><tspan font-style="italic">P</tspan> = 1 × 10<tspan font-size="7" dy="-5">−28</tspan></text>
<text x="147.70" y="177.8" font-size="10.6" fill="#262626" textLength="45.0" lengthAdjust="spacingAndGlyphs"><tspan font-style="italic">ρ</tspan> = −0.46</text>
<text x="106.80" y="279.60" font-size="12" text-anchor="start" fill="#262626" font-weight="normal" textLength="47.60" lengthAdjust="spacingAndGlyphs" >Immune</text>
<g fill="#8cbf88" fill-opacity="0.62">
<rect x="121.8" y="336.1" width="1.6" height="1.6"/>
<rect x="131.4" y="344.3" width="1.6" height="1.6"/>
<rect x="121.8" y="316.8" width="1.6" height="1.6"/>
<rect x="114.6" y="336.4" width="1.6" height="1.6"/>
<rect x="177.0" y="313.8" width="1.6" height="1.6"/>
<rect x="186.6" y="351.3" width="1.6" height="1.6"/>
<rect x="143.4" y="303.2" width="1.6" height="1.6"/>
<rect x="102.6" y="324.7" width="1.6" height="1.6"/>
<rect x="81.0" y="294.9" width="1.6" height="1.6"/>
<rect x="97.8" y="312.5" width="1.6" height="1.6"/>
<rect x="88.2" y="340.4" width="1.6" height="1.6"/>
<rect x="114.6" y="353.9" width="1.6" height="1.6"/>
<rect x="145.8" y="338.5" width="1.6" height="1.6"/>
<rect x="141.0" y="331.8" width="1.6" height="1.6"/>
<rect x="112.2" y="339.9" width="1.6" height="1.6"/>
<rect x="150.6" y="342.5" width="1.6" height="1.6"/>
<rect x="157.8" y="342.2" width="1.6" height="1.6"/>
<rect x="155.4" y="346.8" width="1.6" height="1.6"/>
<rect x="71.4" y="304.1" width="1.6" height="1.6"/>
<rect x="114.6" y="356.4" width="1.6" height="1.6"/>
<rect x="105.0" y="342.8" width="1.6" height="1.6"/>
<rect x="76.2" y="341.5" width="1.6" height="1.6"/>
<rect x="191.4" y="350.6" width="1.6" height="1.6"/>
<rect x="133.8" y="353.9" width="1.6" height="1.6"/>
<rect x="90.6" y="312.3" width="1.6" height="1.6"/>
<rect x="124.2" y="333.0" width="1.6" height="1.6"/>
<rect x="145.8" y="319.4" width="1.6" height="1.6"/>
<rect x="81.0" y="313.7" width="1.6" height="1.6"/>
<rect x="153.0" y="335.3" width="1.6" height="1.6"/>
<rect x="186.6" y="345.4" width="1.6" height="1.6"/>
<rect x="131.4" y="337.3" width="1.6" height="1.6"/>
<rect x="102.6" y="317.2" width="1.6" height="1.6"/>
<rect x="136.2" y="327.7" width="1.6" height="1.6"/>
<rect x="165.0" y="336.9" width="1.6" height="1.6"/>
<rect x="162.6" y="335.4" width="1.6" height="1.6"/>
<rect x="76.2" y="303.8" width="1.6" height="1.6"/>
<rect x="160.2" y="356.2" width="1.6" height="1.6"/>
<rect x="81.0" y="310.9" width="1.6" height="1.6"/>
<rect x="105.0" y="330.2" width="1.6" height="1.6"/>
<rect x="131.4" y="341.0" width="1.6" height="1.6"/>
<rect x="141.0" y="328.5" width="1.6" height="1.6"/>
<rect x="129.0" y="327.6" width="1.6" height="1.6"/>
<rect x="153.0" y="314.9" width="1.6" height="1.6"/>
<rect x="97.8" y="340.3" width="1.6" height="1.6"/>
<rect x="141.0" y="333.4" width="1.6" height="1.6"/>
<rect x="102.6" y="346.2" width="1.6" height="1.6"/>
<rect x="117.0" y="335.3" width="1.6" height="1.6"/>
<rect x="124.2" y="354.0" width="1.6" height="1.6"/>
<rect x="169.8" y="340.6" width="1.6" height="1.6"/>
<rect x="160.2" y="333.0" width="1.6" height="1.6"/>
<rect x="105.0" y="318.0" width="1.6" height="1.6"/>
<rect x="153.0" y="334.8" width="1.6" height="1.6"/>
<rect x="143.4" y="322.6" width="1.6" height="1.6"/>
<rect x="102.6" y="332.6" width="1.6" height="1.6"/>
<rect x="83.4" y="324.0" width="1.6" height="1.6"/>
<rect x="155.4" y="345.7" width="1.6" height="1.6"/>
<rect x="69.0" y="328.0" width="1.6" height="1.6"/>
<rect x="102.6" y="314.3" width="1.6" height="1.6"/>
<rect x="148.2" y="331.2" width="1.6" height="1.6"/>
<rect x="155.4" y="314.1" width="1.6" height="1.6"/>
<rect x="129.0" y="354.6" width="1.6" height="1.6"/>
<rect x="81.0" y="344.6" width="1.6" height="1.6"/>
<rect x="181.8" y="338.5" width="1.6" height="1.6"/>
<rect x="95.4" y="337.1" width="1.6" height="1.6"/>
<rect x="83.4" y="324.8" width="1.6" height="1.6"/>
<rect x="71.4" y="345.0" width="1.6" height="1.6"/>
<rect x="119.4" y="350.7" width="1.6" height="1.6"/>
<rect x="145.8" y="334.6" width="1.6" height="1.6"/>
<rect x="167.4" y="331.4" width="1.6" height="1.6"/>
<rect x="90.6" y="333.7" width="1.6" height="1.6"/>
<rect x="141.0" y="355.6" width="1.6" height="1.6"/>
<rect x="90.6" y="321.8" width="1.6" height="1.6"/>
<rect x="109.8" y="341.4" width="1.6" height="1.6"/>
<rect x="157.8" y="352.6" width="1.6" height="1.6"/>
<rect x="119.4" y="336.1" width="1.6" height="1.6"/>
<rect x="157.8" y="355.3" width="1.6" height="1.6"/>
<rect x="131.4" y="344.1" width="1.6" height="1.6"/>
<rect x="114.6" y="329.3" width="1.6" height="1.6"/>
<rect x="114.6" y="316.9" width="1.6" height="1.6"/>
<rect x="143.4" y="316.8" width="1.6" height="1.6"/>
<rect x="148.2" y="326.4" width="1.6" height="1.6"/>
<rect x="153.0" y="328.9" width="1.6" height="1.6"/>
<rect x="83.4" y="296.8" width="1.6" height="1.6"/>
<rect x="148.2" y="342.8" width="1.6" height="1.6"/>
<rect x="119.4" y="308.0" width="1.6" height="1.6"/>
<rect x="117.0" y="338.5" width="1.6" height="1.6"/>
<rect x="179.4" y="333.0" width="1.6" height="1.6"/>
<rect x="131.4" y="297.4" width="1.6" height="1.6"/>
<rect x="131.4" y="346.3" width="1.6" height="1.6"/>
<rect x="117.0" y="348.1" width="1.6" height="1.6"/>
<rect x="129.0" y="312.9" width="1.6" height="1.6"/>
<rect x="90.6" y="335.7" width="1.6" height="1.6"/>
<rect x="155.4" y="339.3" width="1.6" height="1.6"/>
<rect x="114.6" y="337.1" width="1.6" height="1.6"/>
<rect x="85.8" y="315.7" width="1.6" height="1.6"/>
<rect x="126.6" y="335.8" width="1.6" height="1.6"/>
<rect x="105.0" y="319.9" width="1.6" height="1.6"/>
<rect x="90.6" y="331.0" width="1.6" height="1.6"/>
<rect x="112.2" y="327.2" width="1.6" height="1.6"/>
<rect x="169.8" y="334.9" width="1.6" height="1.6"/>
<rect x="88.2" y="336.2" width="1.6" height="1.6"/>
<rect x="71.4" y="333.1" width="1.6" height="1.6"/>
<rect x="107.4" y="322.3" width="1.6" height="1.6"/>
<rect x="145.8" y="334.8" width="1.6" height="1.6"/>
<rect x="78.6" y="333.1" width="1.6" height="1.6"/>
<rect x="184.2" y="335.1" width="1.6" height="1.6"/>
<rect x="177.0" y="350.5" width="1.6" height="1.6"/>
<rect x="85.8" y="295.7" width="1.6" height="1.6"/>
<rect x="69.0" y="319.7" width="1.6" height="1.6"/>
<rect x="112.2" y="333.4" width="1.6" height="1.6"/>
<rect x="102.6" y="335.4" width="1.6" height="1.6"/>
<rect x="71.4" y="318.0" width="1.6" height="1.6"/>
<rect x="73.8" y="323.7" width="1.6" height="1.6"/>
<rect x="105.0" y="328.8" width="1.6" height="1.6"/>
<rect x="107.4" y="323.9" width="1.6" height="1.6"/>
<rect x="162.6" y="353.1" width="1.6" height="1.6"/>
<rect x="66.6" y="306.1" width="1.6" height="1.6"/>
<rect x="141.0" y="340.3" width="1.6" height="1.6"/>
<rect x="177.0" y="337.5" width="1.6" height="1.6"/>
<rect x="143.4" y="355.9" width="1.6" height="1.6"/>
<rect x="155.4" y="321.9" width="1.6" height="1.6"/>
<rect x="138.6" y="318.7" width="1.6" height="1.6"/>
<rect x="160.2" y="342.4" width="1.6" height="1.6"/>
<rect x="160.2" y="345.2" width="1.6" height="1.6"/>
<rect x="90.6" y="308.7" width="1.6" height="1.6"/>
<rect x="76.2" y="314.6" width="1.6" height="1.6"/>
<rect x="93.0" y="326.2" width="1.6" height="1.6"/>
<rect x="138.6" y="345.0" width="1.6" height="1.6"/>
<rect x="93.0" y="335.6" width="1.6" height="1.6"/>
<rect x="117.0" y="332.7" width="1.6" height="1.6"/>
<rect x="71.4" y="303.2" width="1.6" height="1.6"/>
<rect x="165.0" y="333.2" width="1.6" height="1.6"/>
<rect x="73.8" y="310.5" width="1.6" height="1.6"/>
<rect x="119.4" y="319.7" width="1.6" height="1.6"/>
<rect x="78.6" y="340.6" width="1.6" height="1.6"/>
<rect x="76.2" y="335.0" width="1.6" height="1.6"/>
<rect x="184.2" y="328.0" width="1.6" height="1.6"/>
<rect x="181.8" y="341.7" width="1.6" height="1.6"/>
<rect x="145.8" y="343.9" width="1.6" height="1.6"/>
<rect x="81.0" y="307.4" width="1.6" height="1.6"/>
<rect x="162.6" y="349.7" width="1.6" height="1.6"/>
<rect x="186.6" y="348.1" width="1.6" height="1.6"/>
<rect x="160.2" y="326.0" width="1.6" height="1.6"/>
<rect x="109.8" y="313.3" width="1.6" height="1.6"/>
<rect x="167.4" y="337.8" width="1.6" height="1.6"/>
<rect x="121.8" y="331.0" width="1.6" height="1.6"/>
<rect x="136.2" y="355.1" width="1.6" height="1.6"/>
<rect x="141.0" y="324.8" width="1.6" height="1.6"/>
<rect x="157.8" y="346.2" width="1.6" height="1.6"/>
<rect x="78.6" y="323.2" width="1.6" height="1.6"/>
<rect x="167.4" y="325.6" width="1.6" height="1.6"/>
<rect x="157.8" y="342.5" width="1.6" height="1.6"/>
<rect x="107.4" y="342.1" width="1.6" height="1.6"/>
<rect x="167.4" y="321.0" width="1.6" height="1.6"/>
<rect x="167.4" y="304.7" width="1.6" height="1.6"/>
<rect x="172.2" y="329.5" width="1.6" height="1.6"/>
<rect x="102.6" y="314.7" width="1.6" height="1.6"/>
<rect x="66.6" y="299.0" width="1.6" height="1.6"/>
<rect x="85.8" y="327.6" width="1.6" height="1.6"/>
<rect x="124.2" y="313.8" width="1.6" height="1.6"/>
<rect x="73.8" y="336.7" width="1.6" height="1.6"/>
<rect x="143.4" y="329.4" width="1.6" height="1.6"/>
<rect x="88.2" y="350.3" width="1.6" height="1.6"/>
<rect x="153.0" y="323.5" width="1.6" height="1.6"/>
<rect x="109.8" y="332.2" width="1.6" height="1.6"/>
<rect x="73.8" y="295.2" width="1.6" height="1.6"/>
<rect x="76.2" y="326.5" width="1.6" height="1.6"/>
<rect x="181.8" y="325.7" width="1.6" height="1.6"/>
<rect x="155.4" y="316.5" width="1.6" height="1.6"/>
<rect x="136.2" y="332.6" width="1.6" height="1.6"/>
<rect x="93.0" y="344.3" width="1.6" height="1.6"/>
<rect x="76.2" y="294.2" width="1.6" height="1.6"/>
<rect x="186.6" y="354.7" width="1.6" height="1.6"/>
<rect x="157.8" y="320.6" width="1.6" height="1.6"/>
<rect x="97.8" y="335.7" width="1.6" height="1.6"/>
<rect x="153.0" y="351.9" width="1.6" height="1.6"/>
<rect x="88.2" y="349.6" width="1.6" height="1.6"/>
<rect x="181.8" y="352.4" width="1.6" height="1.6"/>
<rect x="160.2" y="350.7" width="1.6" height="1.6"/>
<rect x="119.4" y="352.9" width="1.6" height="1.6"/>
<rect x="102.6" y="325.3" width="1.6" height="1.6"/>
<rect x="167.4" y="336.3" width="1.6" height="1.6"/>
<rect x="150.6" y="354.9" width="1.6" height="1.6"/>
<rect x="119.4" y="352.7" width="1.6" height="1.6"/>
<rect x="179.4" y="352.5" width="1.6" height="1.6"/>
<rect x="100.2" y="329.7" width="1.6" height="1.6"/>
<rect x="148.2" y="313.8" width="1.6" height="1.6"/>
<rect x="119.4" y="331.5" width="1.6" height="1.6"/>
<rect x="76.2" y="326.6" width="1.6" height="1.6"/>
<rect x="136.2" y="336.6" width="1.6" height="1.6"/>
<rect x="112.2" y="341.5" width="1.6" height="1.6"/>
<rect x="73.8" y="305.0" width="1.6" height="1.6"/>
<rect x="133.8" y="337.9" width="1.6" height="1.6"/>
<rect x="71.4" y="308.8" width="1.6" height="1.6"/>
<rect x="76.2" y="340.2" width="1.6" height="1.6"/>
<rect x="136.2" y="307.1" width="1.6" height="1.6"/>
<rect x="145.8" y="331.7" width="1.6" height="1.6"/>
<rect x="69.0" y="339.9" width="1.6" height="1.6"/>
<rect x="117.0" y="320.8" width="1.6" height="1.6"/>
<rect x="76.2" y="312.2" width="1.6" height="1.6"/>
<rect x="172.2" y="330.7" width="1.6" height="1.6"/>
<rect x="95.4" y="317.9" width="1.6" height="1.6"/>
<rect x="157.8" y="343.9" width="1.6" height="1.6"/>
<rect x="90.6" y="316.1" width="1.6" height="1.6"/>
<rect x="129.0" y="302.5" width="1.6" height="1.6"/>
<rect x="93.0" y="327.7" width="1.6" height="1.6"/>
<rect x="145.8" y="315.3" width="1.6" height="1.6"/>
<rect x="157.8" y="349.9" width="1.6" height="1.6"/>
<rect x="136.2" y="334.7" width="1.6" height="1.6"/>
<rect x="114.6" y="307.3" width="1.6" height="1.6"/>
<rect x="117.0" y="312.5" width="1.6" height="1.6"/>
<rect x="95.4" y="343.3" width="1.6" height="1.6"/>
<rect x="112.2" y="317.2" width="1.6" height="1.6"/>
<rect x="117.0" y="351.9" width="1.6" height="1.6"/>
<rect x="100.2" y="337.8" width="1.6" height="1.6"/>
<rect x="124.2" y="309.0" width="1.6" height="1.6"/>
<rect x="114.6" y="337.1" width="1.6" height="1.6"/>
<rect x="167.4" y="334.3" width="1.6" height="1.6"/>
<rect x="112.2" y="308.4" width="1.6" height="1.6"/>
<rect x="97.8" y="318.7" width="1.6" height="1.6"/>
<rect x="88.2" y="346.6" width="1.6" height="1.6"/>
<rect x="78.6" y="339.5" width="1.6" height="1.6"/>
<rect x="174.6" y="353.0" width="1.6" height="1.6"/>
<rect x="174.6" y="323.5" width="1.6" height="1.6"/>
<rect x="165.0" y="328.2" width="1.6" height="1.6"/>
<rect x="184.2" y="335.5" width="1.6" height="1.6"/>
<rect x="93.0" y="342.5" width="1.6" height="1.6"/>
<rect x="143.4" y="345.3" width="1.6" height="1.6"/>
<rect x="83.4" y="345.7" width="1.6" height="1.6"/>
<rect x="100.2" y="321.1" width="1.6" height="1.6"/>
<rect x="136.2" y="325.2" width="1.6" height="1.6"/>
<rect x="141.0" y="333.0" width="1.6" height="1.6"/>
<rect x="121.8" y="342.1" width="1.6" height="1.6"/>
<rect x="88.2" y="345.4" width="1.6" height="1.6"/>
<rect x="100.2" y="319.5" width="1.6" height="1.6"/>
<rect x="143.4" y="327.1" width="1.6" height="1.6"/>
<rect x="129.0" y="320.1" width="1.6" height="1.6"/>
<rect x="141.0" y="343.3" width="1.6" height="1.6"/>
<rect x="141.0" y="339.8" width="1.6" height="1.6"/>
<rect x="112.2" y="343.2" width="1.6" height="1.6"/>
<rect x="81.0" y="324.5" width="1.6" height="1.6"/>
<rect x="165.0" y="323.9" width="1.6" height="1.6"/>
<rect x="136.2" y="334.1" width="1.6" height="1.6"/>
<rect x="117.0" y="348.9" width="1.6" height="1.6"/>
<rect x="109.8" y="338.1" width="1.6" height="1.6"/>
<rect x="114.6" y="339.9" width="1.6" height="1.6"/>
<rect x="88.2" y="340.1" width="1.6" height="1.6"/>
<rect x="145.8" y="351.5" width="1.6" height="1.6"/>
<rect x="148.2" y="338.3" width="1.6" height="1.6"/>
<rect x="90.6" y="304.4" width="1.6" height="1.6"/>
<rect x="95.4" y="344.8" width="1.6" height="1.6"/>
<rect x="141.0" y="339.6" width="1.6" height="1.6"/>
<rect x="90.6" y="316.8" width="1.6" height="1.6"/>
<rect x="112.2" y="317.7" width="1.6" height="1.6"/>
<rect x="179.4" y="337.7" width="1.6" height="1.6"/>
<rect x="143.4" y="322.7" width="1.6" height="1.6"/>
<rect x="155.4" y="353.9" width="1.6" height="1.6"/>
<rect x="102.6" y="345.1" width="1.6" height="1.6"/>
<rect x="100.2" y="317.6" width="1.6" height="1.6"/>
<rect x="81.0" y="331.8" width="1.6" height="1.6"/>
<rect x="69.0" y="307.0" width="1.6" height="1.6"/>
<rect x="179.4" y="347.1" width="1.6" height="1.6"/>
<rect x="172.2" y="348.5" width="1.6" height="1.6"/>
<rect x="126.6" y="344.4" width="1.6" height="1.6"/>
<rect x="83.4" y="339.1" width="1.6" height="1.6"/>
<rect x="131.4" y="325.4" width="1.6" height="1.6"/>
<rect x="117.0" y="346.8" width="1.6" height="1.6"/>
<rect x="93.0" y="314.6" width="1.6" height="1.6"/>
<rect x="105.0" y="346.4" width="1.6" height="1.6"/>
<rect x="102.6" y="339.6" width="1.6" height="1.6"/>
<rect x="102.6" y="346.7" width="1.6" height="1.6"/>
<rect x="160.2" y="309.3" width="1.6" height="1.6"/>
<rect x="181.8" y="338.2" width="1.6" height="1.6"/>
<rect x="93.0" y="307.4" width="1.6" height="1.6"/>
<rect x="157.8" y="356.6" width="1.6" height="1.6"/>
<rect x="85.8" y="315.9" width="1.6" height="1.6"/>
<rect x="119.4" y="327.4" width="1.6" height="1.6"/>
<rect x="167.4" y="354.1" width="1.6" height="1.6"/>
<rect x="73.8" y="328.7" width="1.6" height="1.6"/>
<rect x="107.4" y="330.9" width="1.6" height="1.6"/>
<rect x="141.0" y="316.5" width="1.6" height="1.6"/>
<rect x="83.4" y="341.3" width="1.6" height="1.6"/>
<rect x="177.0" y="348.0" width="1.6" height="1.6"/>
<rect x="169.8" y="353.2" width="1.6" height="1.6"/>
<rect x="88.2" y="345.4" width="1.6" height="1.6"/>
<rect x="114.6" y="310.3" width="1.6" height="1.6"/>
<rect x="131.4" y="322.7" width="1.6" height="1.6"/>
<rect x="131.4" y="350.3" width="1.6" height="1.6"/>
<rect x="107.4" y="341.0" width="1.6" height="1.6"/>
<rect x="69.0" y="321.2" width="1.6" height="1.6"/>
<rect x="88.2" y="340.7" width="1.6" height="1.6"/>
<rect x="191.4" y="336.2" width="1.6" height="1.6"/>
<rect x="97.8" y="352.8" width="1.6" height="1.6"/>
<rect x="136.2" y="318.7" width="1.6" height="1.6"/>
<rect x="186.6" y="350.5" width="1.6" height="1.6"/>
<rect x="107.4" y="311.6" width="1.6" height="1.6"/>
<rect x="121.8" y="356.9" width="1.6" height="1.6"/>
<rect x="153.0" y="307.0" width="1.6" height="1.6"/>
<rect x="174.6" y="348.4" width="1.6" height="1.6"/>
<rect x="117.0" y="323.1" width="1.6" height="1.6"/>
<rect x="93.0" y="311.9" width="1.6" height="1.6"/>
<rect x="100.2" y="340.1" width="1.6" height="1.6"/>
<rect x="107.4" y="341.3" width="1.6" height="1.6"/>
<rect x="97.8" y="320.7" width="1.6" height="1.6"/>
<rect x="155.4" y="344.6" width="1.6" height="1.6"/>
<rect x="143.4" y="344.4" width="1.6" height="1.6"/>
<rect x="117.0" y="333.1" width="1.6" height="1.6"/>
<rect x="177.0" y="317.7" width="1.6" height="1.6"/>
<rect x="73.8" y="313.9" width="1.6" height="1.6"/>
<rect x="184.2" y="310.2" width="1.6" height="1.6"/>
<rect x="165.0" y="328.3" width="1.6" height="1.6"/>
<rect x="160.2" y="312.9" width="1.6" height="1.6"/>
<rect x="143.4" y="350.4" width="1.6" height="1.6"/>
<rect x="145.8" y="344.2" width="1.6" height="1.6"/>
<rect x="169.8" y="328.4" width="1.6" height="1.6"/>
<rect x="126.6" y="322.4" width="1.6" height="1.6"/>
<rect x="88.2" y="318.0" width="1.6" height="1.6"/>
<rect x="157.8" y="329.6" width="1.6" height="1.6"/>
<rect x="107.4" y="324.0" width="1.6" height="1.6"/>
<rect x="143.4" y="306.4" width="1.6" height="1.6"/>
<rect x="184.2" y="329.7" width="1.6" height="1.6"/>
<rect x="124.2" y="340.3" width="1.6" height="1.6"/>
<rect x="133.8" y="316.6" width="1.6" height="1.6"/>
<rect x="73.8" y="329.6" width="1.6" height="1.6"/>
<rect x="117.0" y="325.1" width="1.6" height="1.6"/>
<rect x="141.0" y="326.8" width="1.6" height="1.6"/>
<rect x="160.2" y="323.8" width="1.6" height="1.6"/>
<rect x="141.0" y="326.3" width="1.6" height="1.6"/>
<rect x="169.8" y="350.0" width="1.6" height="1.6"/>
<rect x="90.6" y="317.8" width="1.6" height="1.6"/>
<rect x="97.8" y="336.6" width="1.6" height="1.6"/>
<rect x="177.0" y="320.2" width="1.6" height="1.6"/>
<rect x="109.8" y="353.6" width="1.6" height="1.6"/>
<rect x="153.0" y="355.9" width="1.6" height="1.6"/>
<rect x="71.4" y="331.2" width="1.6" height="1.6"/>
<rect x="124.2" y="356.8" width="1.6" height="1.6"/>
<rect x="145.8" y="330.8" width="1.6" height="1.6"/>
<rect x="76.2" y="346.3" width="1.6" height="1.6"/>
<rect x="181.8" y="341.2" width="1.6" height="1.6"/>
<rect x="88.2" y="303.6" width="1.6" height="1.6"/>
<rect x="174.6" y="308.1" width="1.6" height="1.6"/>
<rect x="83.4" y="316.1" width="1.6" height="1.6"/>
<rect x="114.6" y="356.3" width="1.6" height="1.6"/>
<rect x="105.0" y="338.5" width="1.6" height="1.6"/>
<rect x="162.6" y="345.5" width="1.6" height="1.6"/>
<rect x="71.4" y="339.2" width="1.6" height="1.6"/>
<rect x="143.4" y="336.9" width="1.6" height="1.6"/>
<rect x="124.2" y="344.8" width="1.6" height="1.6"/>
<rect x="138.6" y="319.7" width="1.6" height="1.6"/>
<rect x="83.4" y="342.4" width="1.6" height="1.6"/>
<rect x="150.6" y="349.3" width="1.6" height="1.6"/>
<rect x="167.4" y="329.2" width="1.6" height="1.6"/>
<rect x="150.6" y="334.2" width="1.6" height="1.6"/>
<rect x="90.6" y="328.4" width="1.6" height="1.6"/>
<rect x="148.2" y="354.4" width="1.6" height="1.6"/>
<rect x="189.0" y="349.2" width="1.6" height="1.6"/>
<rect x="155.4" y="352.8" width="1.6" height="1.6"/>
<rect x="100.2" y="345.5" width="1.6" height="1.6"/>
<rect x="114.6" y="311.2" width="1.6" height="1.6"/>
<rect x="69.0" y="312.2" width="1.6" height="1.6"/>
<rect x="181.8" y="332.0" width="1.6" height="1.6"/>
<rect x="153.0" y="348.1" width="1.6" height="1.6"/>
<rect x="73.8" y="309.7" width="1.6" height="1.6"/>
<rect x="117.0" y="336.3" width="1.6" height="1.6"/>
<rect x="88.2" y="348.0" width="1.6" height="1.6"/>
<rect x="162.6" y="307.2" width="1.6" height="1.6"/>
<rect x="112.2" y="348.3" width="1.6" height="1.6"/>
<rect x="160.2" y="354.0" width="1.6" height="1.6"/>
<rect x="148.2" y="350.9" width="1.6" height="1.6"/>
<rect x="73.8" y="336.0" width="1.6" height="1.6"/>
</g>
<g fill="#68a163" fill-opacity="0.8">
<rect x="121.9" y="373.2" width="1.4" height="1.8"/>
<rect x="191.5" y="373.2" width="1.4" height="1.8"/>
<rect x="189.1" y="373.2" width="1.4" height="1.8"/>
<rect x="193.9" y="373.2" width="1.4" height="1.8"/>
<rect x="136.3" y="373.2" width="1.4" height="1.8"/>
<rect x="129.1" y="373.2" width="1.4" height="1.8"/>
<rect x="105.1" y="373.2" width="1.4" height="1.8"/>
<rect x="102.7" y="373.2" width="1.4" height="1.8"/>
<rect x="189.1" y="373.2" width="1.4" height="1.8"/>
<rect x="129.1" y="373.2" width="1.4" height="1.8"/>
<rect x="189.1" y="373.2" width="1.4" height="1.8"/>
<rect x="145.9" y="373.2" width="1.4" height="1.8"/>
<rect x="169.9" y="373.2" width="1.4" height="1.8"/>
<rect x="145.9" y="373.2" width="1.4" height="1.8"/>
<rect x="117.1" y="373.2" width="1.4" height="1.8"/>
<rect x="162.7" y="373.2" width="1.4" height="1.8"/>
<rect x="78.7" y="373.2" width="1.4" height="1.8"/>
<rect x="179.5" y="373.2" width="1.4" height="1.8"/>
<rect x="95.5" y="373.2" width="1.4" height="1.8"/>
<rect x="114.7" y="373.2" width="1.4" height="1.8"/>
<rect x="172.3" y="373.2" width="1.4" height="1.8"/>
<rect x="141.1" y="373.2" width="1.4" height="1.8"/>
<rect x="136.3" y="373.2" width="1.4" height="1.8"/>
<rect x="138.7" y="373.2" width="1.4" height="1.8"/>
<rect x="114.7" y="373.2" width="1.4" height="1.8"/>
<rect x="83.5" y="373.2" width="1.4" height="1.8"/>
<rect x="112.3" y="373.2" width="1.4" height="1.8"/>
<rect x="97.9" y="373.2" width="1.4" height="1.8"/>
<rect x="165.1" y="373.2" width="1.4" height="1.8"/>
<rect x="186.7" y="373.2" width="1.4" height="1.8"/>
<rect x="90.7" y="373.2" width="1.4" height="1.8"/>
<rect x="105.1" y="373.2" width="1.4" height="1.8"/>
<rect x="169.9" y="373.2" width="1.4" height="1.8"/>
<rect x="119.5" y="373.2" width="1.4" height="1.8"/>
<rect x="124.3" y="373.2" width="1.4" height="1.8"/>
<rect x="179.5" y="373.2" width="1.4" height="1.8"/>
<rect x="119.5" y="373.2" width="1.4" height="1.8"/>
<rect x="186.7" y="373.2" width="1.4" height="1.8"/>
<rect x="129.1" y="373.2" width="1.4" height="1.8"/>
<rect x="155.5" y="373.2" width="1.4" height="1.8"/>
<rect x="191.5" y="373.2" width="1.4" height="1.8"/>
<rect x="95.5" y="373.2" width="1.4" height="1.8"/>
<rect x="126.7" y="373.2" width="1.4" height="1.8"/>
<rect x="93.1" y="373.2" width="1.4" height="1.8"/>
<rect x="81.1" y="373.2" width="1.4" height="1.8"/>
<rect x="150.7" y="373.2" width="1.4" height="1.8"/>
<rect x="191.5" y="373.2" width="1.4" height="1.8"/>
<rect x="143.5" y="373.2" width="1.4" height="1.8"/>
<rect x="109.9" y="373.2" width="1.4" height="1.8"/>
<rect x="160.3" y="373.2" width="1.4" height="1.8"/>
<rect x="109.9" y="373.2" width="1.4" height="1.8"/>
<rect x="73.9" y="373.2" width="1.4" height="1.8"/>
<rect x="114.7" y="373.2" width="1.4" height="1.8"/>
<rect x="81.1" y="373.2" width="1.4" height="1.8"/>
<rect x="95.5" y="373.2" width="1.4" height="1.8"/>
<rect x="131.5" y="373.2" width="1.4" height="1.8"/>
<rect x="177.1" y="373.2" width="1.4" height="1.8"/>
<rect x="76.3" y="373.2" width="1.4" height="1.8"/>
<rect x="157.9" y="373.2" width="1.4" height="1.8"/>
<rect x="136.3" y="373.2" width="1.4" height="1.8"/>
<rect x="121.9" y="373.2" width="1.4" height="1.8"/>
<rect x="93.1" y="373.2" width="1.4" height="1.8"/>
<rect x="124.3" y="373.2" width="1.4" height="1.8"/>
<rect x="114.7" y="373.2" width="1.4" height="1.8"/>
<rect x="191.5" y="373.2" width="1.4" height="1.8"/>
<rect x="100.3" y="373.2" width="1.4" height="1.8"/>
<rect x="191.5" y="373.2" width="1.4" height="1.8"/>
<rect x="155.5" y="373.2" width="1.4" height="1.8"/>
<rect x="102.7" y="373.2" width="1.4" height="1.8"/>
<rect x="97.9" y="373.2" width="1.4" height="1.8"/>
<rect x="73.9" y="373.2" width="1.4" height="1.8"/>
<rect x="95.5" y="373.2" width="1.4" height="1.8"/>
<rect x="78.7" y="373.2" width="1.4" height="1.8"/>
<rect x="189.1" y="373.2" width="1.4" height="1.8"/>
<rect x="174.7" y="373.2" width="1.4" height="1.8"/>
<rect x="85.9" y="373.2" width="1.4" height="1.8"/>
<rect x="150.7" y="373.2" width="1.4" height="1.8"/>
<rect x="95.5" y="373.2" width="1.4" height="1.8"/>
<rect x="136.3" y="373.2" width="1.4" height="1.8"/>
<rect x="162.7" y="373.2" width="1.4" height="1.8"/>
<rect x="76.3" y="373.2" width="1.4" height="1.8"/>
<rect x="81.1" y="373.2" width="1.4" height="1.8"/>
<rect x="189.1" y="373.2" width="1.4" height="1.8"/>
<rect x="117.1" y="373.2" width="1.4" height="1.8"/>
<rect x="102.7" y="373.2" width="1.4" height="1.8"/>
<rect x="78.7" y="373.2" width="1.4" height="1.8"/>
<rect x="196.3" y="373.2" width="1.4" height="1.8"/>
<rect x="117.1" y="373.2" width="1.4" height="1.8"/>
<rect x="162.7" y="373.2" width="1.4" height="1.8"/>
<rect x="102.7" y="373.2" width="1.4" height="1.8"/>
</g>
<path d="M65.0,325.68 L66.0,325.88 L67.0,326.17 L68.0,326.55 L69.0,326.97 L70.0,327.44 L71.0,327.93 L72.0,328.45 L73.0,328.97 L74.0,329.49 L75.0,329.99 L76.0,330.48 L77.0,330.96 L78.0,331.42 L79.0,331.87 L80.0,332.32 L81.0,332.76 L82.0,333.19 L83.0,333.61 L84.0,334.01 L85.0,334.40 L86.0,334.76 L87.0,335.11 L88.0,335.45 L89.0,335.77 L90.0,336.08 L91.0,336.39 L92.0,336.70 L93.0,337.00 L94.0,337.30 L95.0,337.61 L96.0,337.91 L97.0,338.22 L98.0,338.52 L99.0,338.82 L100.0,339.12 L101.0,339.41 L102.0,339.69 L103.0,339.96 L104.0,340.23 L105.0,340.50 L106.0,340.78 L107.0,341.07 L108.0,341.36 L109.0,341.65 L110.0,341.93 L111.0,342.19 L112.0,342.43 L113.0,342.65 L114.0,342.84 L115.0,342.98 L116.0,343.09 L117.0,343.15 L118.0,343.19 L119.0,343.20 L120.0,343.20 L121.0,343.20 L122.0,343.20 L123.0,343.20 L124.0,343.19 L125.0,343.16 L126.0,343.11 L127.0,343.02 L128.0,342.90 L129.0,342.77 L130.0,342.64 L131.0,342.53 L132.0,342.47 L133.0,342.44 L134.0,342.46 L135.0,342.51 L136.0,342.58 L137.0,342.66 L138.0,342.76 L139.0,342.87 L140.0,342.99 L141.0,343.13 L142.0,343.30 L143.0,343.49 L144.0,343.70 L145.0,343.93 L146.0,344.18 L147.0,344.43 L148.0,344.69 L149.0,344.95 L150.0,345.20 L151.0,345.44 L152.0,345.69 L153.0,345.93 L154.0,346.18 L155.0,346.43 L156.0,346.68 L157.0,346.93 L158.0,347.18 L159.0,347.43 L160.0,347.68 L161.0,347.93 L162.0,348.18 L163.0,348.42 L164.0,348.66 L165.0,348.90 L166.0,349.13 L167.0,349.37 L168.0,349.60 L169.0,349.84 L170.0,350.07 L171.0,350.30 L172.0,350.54 L173.0,350.77 L174.0,351.00 L175.0,351.24 L176.0,351.47 L177.0,351.71 L178.0,351.95 L179.0,352.19 L180.0,352.43 L181.0,352.68 L182.0,352.92 L183.0,353.17 L184.0,353.42 L185.0,353.68 L186.0,353.93 L187.0,354.18 L188.0,354.44 L189.0,354.70 L190.0,354.96 L191.0,355.22 L192.0,355.48 L193.0,355.74 L194.0,356.00 L195.0,356.27 L196.0,356.48 L197.0,356.64" fill="none" stroke="#68a163" stroke-width="3.2" stroke-linejoin="round"/>
<line x1="64.50" y1="290.50" x2="64.50" y2="374.50" stroke="#676767" stroke-width="1.2" />
<line x1="59.50" y1="374.50" x2="197.00" y2="374.50" stroke="#676767" stroke-width="1.2" />
<line x1="59.50" y1="290.50" x2="64.50" y2="290.50" stroke="#676767" stroke-width="1.2" />
<text x="53.80" y="293.90" font-size="10.5" text-anchor="end" fill="#262626" font-weight="normal" textLength="20.90" lengthAdjust="spacingAndGlyphs" >0.15</text>
<text x="53.80" y="377.90" font-size="10.5" text-anchor="end" fill="#262626" font-weight="normal" >0</text>
<line x1="76.50" y1="374.50" x2="76.50" y2="380.00" stroke="#676767" stroke-width="1.2" />
<line x1="196.50" y1="374.50" x2="196.50" y2="380.00" stroke="#676767" stroke-width="1.2" />
<text x="76.80" y="393.80" font-size="10.5" text-anchor="middle" fill="#262626" font-weight="normal" textLength="11.80" lengthAdjust="spacingAndGlyphs" >20</text>
<text x="196.90" y="393.80" font-size="10.5" text-anchor="middle" fill="#262626" font-weight="normal" textLength="11.80" lengthAdjust="spacingAndGlyphs" >70</text>
<text x="141.50" y="306.6" font-size="10.2" fill="#262626" textLength="50.9" lengthAdjust="spacingAndGlyphs"><tspan font-style="italic">P</tspan> = 2 × 10<tspan font-size="7" dy="-5">−6</tspan></text>
<text x="154.70" y="324.9" font-size="10.6" fill="#262626" textLength="38.0" lengthAdjust="spacingAndGlyphs"><tspan font-style="italic">ρ</tspan> = −0.2</text>
<text x="107.70" y="425.30" font-size="12" text-anchor="start" fill="#262626" font-weight="normal" textLength="45.50" lengthAdjust="spacingAndGlyphs" >Stromal</text>
<g fill="#f2b2a6" fill-opacity="0.62">
<rect x="107.4" y="450.9" width="1.6" height="1.6"/>
<rect x="145.8" y="485.5" width="1.6" height="1.6"/>
<rect x="172.2" y="480.0" width="1.6" height="1.6"/>
<rect x="117.0" y="466.8" width="1.6" height="1.6"/>
<rect x="119.4" y="460.4" width="1.6" height="1.6"/>
<rect x="145.8" y="470.6" width="1.6" height="1.6"/>
<rect x="157.8" y="490.6" width="1.6" height="1.6"/>
<rect x="145.8" y="481.6" width="1.6" height="1.6"/>
<rect x="81.0" y="457.4" width="1.6" height="1.6"/>
<rect x="148.2" y="477.5" width="1.6" height="1.6"/>
<rect x="121.8" y="467.9" width="1.6" height="1.6"/>
<rect x="126.6" y="483.7" width="1.6" height="1.6"/>
<rect x="165.0" y="460.1" width="1.6" height="1.6"/>
<rect x="189.0" y="498.3" width="1.6" height="1.6"/>
<rect x="100.2" y="488.9" width="1.6" height="1.6"/>
<rect x="88.2" y="469.5" width="1.6" height="1.6"/>
<rect x="141.0" y="469.5" width="1.6" height="1.6"/>
<rect x="97.8" y="493.9" width="1.6" height="1.6"/>
<rect x="93.0" y="460.7" width="1.6" height="1.6"/>
<rect x="124.2" y="492.5" width="1.6" height="1.6"/>
<rect x="76.2" y="469.7" width="1.6" height="1.6"/>
<rect x="167.4" y="467.9" width="1.6" height="1.6"/>
<rect x="90.6" y="493.4" width="1.6" height="1.6"/>
<rect x="117.0" y="459.2" width="1.6" height="1.6"/>
<rect x="124.2" y="455.4" width="1.6" height="1.6"/>
<rect x="100.2" y="490.7" width="1.6" height="1.6"/>
<rect x="153.0" y="482.6" width="1.6" height="1.6"/>
<rect x="88.2" y="466.7" width="1.6" height="1.6"/>
<rect x="121.8" y="477.5" width="1.6" height="1.6"/>
<rect x="141.0" y="484.3" width="1.6" height="1.6"/>
<rect x="174.6" y="490.9" width="1.6" height="1.6"/>
<rect x="76.2" y="479.7" width="1.6" height="1.6"/>
<rect x="143.4" y="473.9" width="1.6" height="1.6"/>
<rect x="107.4" y="470.8" width="1.6" height="1.6"/>
<rect x="119.4" y="451.1" width="1.6" height="1.6"/>
<rect x="131.4" y="447.3" width="1.6" height="1.6"/>
<rect x="102.6" y="465.8" width="1.6" height="1.6"/>
<rect x="181.8" y="495.4" width="1.6" height="1.6"/>
<rect x="167.4" y="498.6" width="1.6" height="1.6"/>
<rect x="66.6" y="493.2" width="1.6" height="1.6"/>
<rect x="88.2" y="491.8" width="1.6" height="1.6"/>
<rect x="131.4" y="490.1" width="1.6" height="1.6"/>
<rect x="78.6" y="456.1" width="1.6" height="1.6"/>
<rect x="150.6" y="479.1" width="1.6" height="1.6"/>
<rect x="100.2" y="471.6" width="1.6" height="1.6"/>
<rect x="100.2" y="458.0" width="1.6" height="1.6"/>
<rect x="93.0" y="474.5" width="1.6" height="1.6"/>
<rect x="177.0" y="486.3" width="1.6" height="1.6"/>
<rect x="107.4" y="448.6" width="1.6" height="1.6"/>
<rect x="191.4" y="472.8" width="1.6" height="1.6"/>
<rect x="83.4" y="479.9" width="1.6" height="1.6"/>
<rect x="121.8" y="456.1" width="1.6" height="1.6"/>
<rect x="119.4" y="473.4" width="1.6" height="1.6"/>
<rect x="121.8" y="483.9" width="1.6" height="1.6"/>
<rect x="119.4" y="457.9" width="1.6" height="1.6"/>
<rect x="181.8" y="492.7" width="1.6" height="1.6"/>
<rect x="85.8" y="458.0" width="1.6" height="1.6"/>
<rect x="76.2" y="439.6" width="1.6" height="1.6"/>
<rect x="148.2" y="466.0" width="1.6" height="1.6"/>
<rect x="114.6" y="486.0" width="1.6" height="1.6"/>
<rect x="105.0" y="479.3" width="1.6" height="1.6"/>
<rect x="81.0" y="479.4" width="1.6" height="1.6"/>
<rect x="184.2" y="479.2" width="1.6" height="1.6"/>
<rect x="71.4" y="487.9" width="1.6" height="1.6"/>
<rect x="162.6" y="482.4" width="1.6" height="1.6"/>
<rect x="179.4" y="491.5" width="1.6" height="1.6"/>
<rect x="162.6" y="475.5" width="1.6" height="1.6"/>
<rect x="112.2" y="490.6" width="1.6" height="1.6"/>
<rect x="148.2" y="470.9" width="1.6" height="1.6"/>
<rect x="112.2" y="479.0" width="1.6" height="1.6"/>
<rect x="167.4" y="485.2" width="1.6" height="1.6"/>
<rect x="145.8" y="464.9" width="1.6" height="1.6"/>
<rect x="138.6" y="480.1" width="1.6" height="1.6"/>
<rect x="186.6" y="478.1" width="1.6" height="1.6"/>
<rect x="105.0" y="470.1" width="1.6" height="1.6"/>
<rect x="138.6" y="486.6" width="1.6" height="1.6"/>
<rect x="114.6" y="488.0" width="1.6" height="1.6"/>
<rect x="155.4" y="497.7" width="1.6" height="1.6"/>
<rect x="76.2" y="477.4" width="1.6" height="1.6"/>
<rect x="129.0" y="471.1" width="1.6" height="1.6"/>
<rect x="95.4" y="450.9" width="1.6" height="1.6"/>
<rect x="90.6" y="492.3" width="1.6" height="1.6"/>
<rect x="138.6" y="461.3" width="1.6" height="1.6"/>
<rect x="97.8" y="486.9" width="1.6" height="1.6"/>
<rect x="109.8" y="474.6" width="1.6" height="1.6"/>
<rect x="177.0" y="483.1" width="1.6" height="1.6"/>
<rect x="136.2" y="443.1" width="1.6" height="1.6"/>
<rect x="95.4" y="479.9" width="1.6" height="1.6"/>
<rect x="95.4" y="481.5" width="1.6" height="1.6"/>
<rect x="93.0" y="472.1" width="1.6" height="1.6"/>
<rect x="83.4" y="483.4" width="1.6" height="1.6"/>
<rect x="126.6" y="486.3" width="1.6" height="1.6"/>
<rect x="136.2" y="448.7" width="1.6" height="1.6"/>
<rect x="93.0" y="462.8" width="1.6" height="1.6"/>
<rect x="71.4" y="480.6" width="1.6" height="1.6"/>
<rect x="174.6" y="478.4" width="1.6" height="1.6"/>
<rect x="169.8" y="480.9" width="1.6" height="1.6"/>
<rect x="172.2" y="483.5" width="1.6" height="1.6"/>
<rect x="85.8" y="491.0" width="1.6" height="1.6"/>
<rect x="117.0" y="480.9" width="1.6" height="1.6"/>
<rect x="160.2" y="487.2" width="1.6" height="1.6"/>
<rect x="93.0" y="486.1" width="1.6" height="1.6"/>
<rect x="160.2" y="495.3" width="1.6" height="1.6"/>
<rect x="97.8" y="490.2" width="1.6" height="1.6"/>
<rect x="109.8" y="478.8" width="1.6" height="1.6"/>
<rect x="150.6" y="493.6" width="1.6" height="1.6"/>
<rect x="85.8" y="483.7" width="1.6" height="1.6"/>
<rect x="162.6" y="498.0" width="1.6" height="1.6"/>
<rect x="114.6" y="481.1" width="1.6" height="1.6"/>
<rect x="76.2" y="481.8" width="1.6" height="1.6"/>
<rect x="157.8" y="476.1" width="1.6" height="1.6"/>
<rect x="83.4" y="486.3" width="1.6" height="1.6"/>
<rect x="109.8" y="482.9" width="1.6" height="1.6"/>
<rect x="95.4" y="472.8" width="1.6" height="1.6"/>
<rect x="179.4" y="462.1" width="1.6" height="1.6"/>
<rect x="138.6" y="456.4" width="1.6" height="1.6"/>
<rect x="133.8" y="469.5" width="1.6" height="1.6"/>
<rect x="124.2" y="491.7" width="1.6" height="1.6"/>
<rect x="112.2" y="468.2" width="1.6" height="1.6"/>
<rect x="114.6" y="495.3" width="1.6" height="1.6"/>
<rect x="133.8" y="462.9" width="1.6" height="1.6"/>
<rect x="189.0" y="469.4" width="1.6" height="1.6"/>
<rect x="93.0" y="469.0" width="1.6" height="1.6"/>
<rect x="97.8" y="477.8" width="1.6" height="1.6"/>
<rect x="100.2" y="483.1" width="1.6" height="1.6"/>
<rect x="143.4" y="484.8" width="1.6" height="1.6"/>
<rect x="129.0" y="488.8" width="1.6" height="1.6"/>
<rect x="177.0" y="466.8" width="1.6" height="1.6"/>
<rect x="81.0" y="479.3" width="1.6" height="1.6"/>
<rect x="148.2" y="465.5" width="1.6" height="1.6"/>
<rect x="150.6" y="438.8" width="1.6" height="1.6"/>
<rect x="124.2" y="485.7" width="1.6" height="1.6"/>
<rect x="126.6" y="457.3" width="1.6" height="1.6"/>
<rect x="69.0" y="471.8" width="1.6" height="1.6"/>
<rect x="131.4" y="463.6" width="1.6" height="1.6"/>
<rect x="162.6" y="485.3" width="1.6" height="1.6"/>
<rect x="114.6" y="488.2" width="1.6" height="1.6"/>
<rect x="181.8" y="491.0" width="1.6" height="1.6"/>
<rect x="153.0" y="476.3" width="1.6" height="1.6"/>
<rect x="129.0" y="490.4" width="1.6" height="1.6"/>
<rect x="157.8" y="486.7" width="1.6" height="1.6"/>
<rect x="100.2" y="478.8" width="1.6" height="1.6"/>
<rect x="169.8" y="487.6" width="1.6" height="1.6"/>
<rect x="181.8" y="494.9" width="1.6" height="1.6"/>
<rect x="167.4" y="475.9" width="1.6" height="1.6"/>
<rect x="153.0" y="477.7" width="1.6" height="1.6"/>
<rect x="191.4" y="496.1" width="1.6" height="1.6"/>
<rect x="102.6" y="488.2" width="1.6" height="1.6"/>
<rect x="126.6" y="481.9" width="1.6" height="1.6"/>
<rect x="105.0" y="493.0" width="1.6" height="1.6"/>
<rect x="160.2" y="444.2" width="1.6" height="1.6"/>
<rect x="129.0" y="492.2" width="1.6" height="1.6"/>
<rect x="131.4" y="456.6" width="1.6" height="1.6"/>
<rect x="105.0" y="462.1" width="1.6" height="1.6"/>
<rect x="100.2" y="461.2" width="1.6" height="1.6"/>
<rect x="141.0" y="487.1" width="1.6" height="1.6"/>
<rect x="177.0" y="490.6" width="1.6" height="1.6"/>
<rect x="73.8" y="465.5" width="1.6" height="1.6"/>
<rect x="78.6" y="459.3" width="1.6" height="1.6"/>
<rect x="124.2" y="479.1" width="1.6" height="1.6"/>
<rect x="88.2" y="466.8" width="1.6" height="1.6"/>
<rect x="95.4" y="486.4" width="1.6" height="1.6"/>
<rect x="141.0" y="494.3" width="1.6" height="1.6"/>
<rect x="85.8" y="460.1" width="1.6" height="1.6"/>
<rect x="181.8" y="495.3" width="1.6" height="1.6"/>
<rect x="88.2" y="467.9" width="1.6" height="1.6"/>
<rect x="109.8" y="492.6" width="1.6" height="1.6"/>
<rect x="93.0" y="483.1" width="1.6" height="1.6"/>
<rect x="78.6" y="475.6" width="1.6" height="1.6"/>
<rect x="126.6" y="443.8" width="1.6" height="1.6"/>
<rect x="189.0" y="482.2" width="1.6" height="1.6"/>
<rect x="165.0" y="497.8" width="1.6" height="1.6"/>
<rect x="85.8" y="486.7" width="1.6" height="1.6"/>
<rect x="107.4" y="468.7" width="1.6" height="1.6"/>
<rect x="129.0" y="450.7" width="1.6" height="1.6"/>
<rect x="85.8" y="488.8" width="1.6" height="1.6"/>
<rect x="90.6" y="489.3" width="1.6" height="1.6"/>
<rect x="69.0" y="478.0" width="1.6" height="1.6"/>
<rect x="126.6" y="448.9" width="1.6" height="1.6"/>
<rect x="157.8" y="492.5" width="1.6" height="1.6"/>
<rect x="78.6" y="470.1" width="1.6" height="1.6"/>
<rect x="157.8" y="474.3" width="1.6" height="1.6"/>
<rect x="105.0" y="458.5" width="1.6" height="1.6"/>
<rect x="109.8" y="485.0" width="1.6" height="1.6"/>
<rect x="102.6" y="488.5" width="1.6" height="1.6"/>
<rect x="88.2" y="456.3" width="1.6" height="1.6"/>
<rect x="143.4" y="475.3" width="1.6" height="1.6"/>
<rect x="109.8" y="472.3" width="1.6" height="1.6"/>
<rect x="138.6" y="465.2" width="1.6" height="1.6"/>
<rect x="71.4" y="480.8" width="1.6" height="1.6"/>
</g>
<g fill="#eba18f" fill-opacity="0.8">
<rect x="167.5" y="519.2" width="1.4" height="1.8"/>
<rect x="88.3" y="519.2" width="1.4" height="1.8"/>
<rect x="193.9" y="519.2" width="1.4" height="1.8"/>
<rect x="145.9" y="519.2" width="1.4" height="1.8"/>
<rect x="189.1" y="519.2" width="1.4" height="1.8"/>
<rect x="141.1" y="519.2" width="1.4" height="1.8"/>
<rect x="126.7" y="519.2" width="1.4" height="1.8"/>
<rect x="148.3" y="519.2" width="1.4" height="1.8"/>
<rect x="105.1" y="519.2" width="1.4" height="1.8"/>
<rect x="73.9" y="519.2" width="1.4" height="1.8"/>
<rect x="169.9" y="519.2" width="1.4" height="1.8"/>
<rect x="117.1" y="519.2" width="1.4" height="1.8"/>
<rect x="90.7" y="519.2" width="1.4" height="1.8"/>
<rect x="95.5" y="519.2" width="1.4" height="1.8"/>
<rect x="193.9" y="519.2" width="1.4" height="1.8"/>
<rect x="177.1" y="519.2" width="1.4" height="1.8"/>
<rect x="145.9" y="519.2" width="1.4" height="1.8"/>
<rect x="148.3" y="519.2" width="1.4" height="1.8"/>
<rect x="165.1" y="519.2" width="1.4" height="1.8"/>
<rect x="155.5" y="519.2" width="1.4" height="1.8"/>
<rect x="81.1" y="519.2" width="1.4" height="1.8"/>
<rect x="148.3" y="519.2" width="1.4" height="1.8"/>
<rect x="88.3" y="519.2" width="1.4" height="1.8"/>
<rect x="105.1" y="519.2" width="1.4" height="1.8"/>
<rect x="186.7" y="519.2" width="1.4" height="1.8"/>
<rect x="143.5" y="519.2" width="1.4" height="1.8"/>
<rect x="172.3" y="519.2" width="1.4" height="1.8"/>
<rect x="105.1" y="519.2" width="1.4" height="1.8"/>
<rect x="105.1" y="519.2" width="1.4" height="1.8"/>
<rect x="138.7" y="519.2" width="1.4" height="1.8"/>
<rect x="105.1" y="519.2" width="1.4" height="1.8"/>
<rect x="165.1" y="519.2" width="1.4" height="1.8"/>
<rect x="138.7" y="519.2" width="1.4" height="1.8"/>
<rect x="93.1" y="519.2" width="1.4" height="1.8"/>
<rect x="88.3" y="519.2" width="1.4" height="1.8"/>
<rect x="117.1" y="519.2" width="1.4" height="1.8"/>
<rect x="109.9" y="519.2" width="1.4" height="1.8"/>
<rect x="148.3" y="519.2" width="1.4" height="1.8"/>
<rect x="186.7" y="519.2" width="1.4" height="1.8"/>
<rect x="193.9" y="519.2" width="1.4" height="1.8"/>
<rect x="169.9" y="519.2" width="1.4" height="1.8"/>
<rect x="129.1" y="519.2" width="1.4" height="1.8"/>
<rect x="138.7" y="519.2" width="1.4" height="1.8"/>
<rect x="107.5" y="519.2" width="1.4" height="1.8"/>
<rect x="88.3" y="519.2" width="1.4" height="1.8"/>
<rect x="181.9" y="519.2" width="1.4" height="1.8"/>
<rect x="117.1" y="519.2" width="1.4" height="1.8"/>
<rect x="150.7" y="519.2" width="1.4" height="1.8"/>
<rect x="145.9" y="519.2" width="1.4" height="1.8"/>
<rect x="73.9" y="519.2" width="1.4" height="1.8"/>
<rect x="97.9" y="519.2" width="1.4" height="1.8"/>
<rect x="136.3" y="519.2" width="1.4" height="1.8"/>
<rect x="172.3" y="519.2" width="1.4" height="1.8"/>
<rect x="126.7" y="519.2" width="1.4" height="1.8"/>
<rect x="150.7" y="519.2" width="1.4" height="1.8"/>
<rect x="100.3" y="519.2" width="1.4" height="1.8"/>
<rect x="167.5" y="519.2" width="1.4" height="1.8"/>
<rect x="129.1" y="519.2" width="1.4" height="1.8"/>
<rect x="81.1" y="519.2" width="1.4" height="1.8"/>
<rect x="126.7" y="519.2" width="1.4" height="1.8"/>
<rect x="90.7" y="519.2" width="1.4" height="1.8"/>
<rect x="172.3" y="519.2" width="1.4" height="1.8"/>
<rect x="181.9" y="519.2" width="1.4" height="1.8"/>
<rect x="83.5" y="519.2" width="1.4" height="1.8"/>
<rect x="107.5" y="519.2" width="1.4" height="1.8"/>
<rect x="85.9" y="519.2" width="1.4" height="1.8"/>
<rect x="138.7" y="519.2" width="1.4" height="1.8"/>
<rect x="73.9" y="519.2" width="1.4" height="1.8"/>
<rect x="160.3" y="519.2" width="1.4" height="1.8"/>
<rect x="143.5" y="519.2" width="1.4" height="1.8"/>
<rect x="124.3" y="519.2" width="1.4" height="1.8"/>
<rect x="184.3" y="519.2" width="1.4" height="1.8"/>
<rect x="119.5" y="519.2" width="1.4" height="1.8"/>
<rect x="78.7" y="519.2" width="1.4" height="1.8"/>
<rect x="165.1" y="519.2" width="1.4" height="1.8"/>
<rect x="157.9" y="519.2" width="1.4" height="1.8"/>
<rect x="83.5" y="519.2" width="1.4" height="1.8"/>
<rect x="148.3" y="519.2" width="1.4" height="1.8"/>
<rect x="121.9" y="519.2" width="1.4" height="1.8"/>
<rect x="138.7" y="519.2" width="1.4" height="1.8"/>
<rect x="78.7" y="519.2" width="1.4" height="1.8"/>
<rect x="117.1" y="519.2" width="1.4" height="1.8"/>
<rect x="83.5" y="519.2" width="1.4" height="1.8"/>
<rect x="186.7" y="519.2" width="1.4" height="1.8"/>
<rect x="143.5" y="519.2" width="1.4" height="1.8"/>
<rect x="196.3" y="519.2" width="1.4" height="1.8"/>
<rect x="124.3" y="519.2" width="1.4" height="1.8"/>
<rect x="73.9" y="519.2" width="1.4" height="1.8"/>
<rect x="117.1" y="519.2" width="1.4" height="1.8"/>
<rect x="145.9" y="519.2" width="1.4" height="1.8"/>
</g>
<path d="M65.0,492.34 L66.0,492.49 L67.0,492.69 L68.0,492.96 L69.0,493.25 L70.0,493.55 L71.0,493.87 L72.0,494.20 L73.0,494.52 L74.0,494.85 L75.0,495.18 L76.0,495.50 L77.0,495.81 L78.0,496.12 L79.0,496.44 L80.0,496.74 L81.0,497.05 L82.0,497.35 L83.0,497.63 L84.0,497.90 L85.0,498.16 L86.0,498.40 L87.0,498.63 L88.0,498.85 L89.0,499.06 L90.0,499.25 L91.0,499.45 L92.0,499.63 L93.0,499.82 L94.0,500.00 L95.0,500.18 L96.0,500.36 L97.0,500.53 L98.0,500.71 L99.0,500.88 L100.0,501.04 L101.0,501.20 L102.0,501.34 L103.0,501.48 L104.0,501.61 L105.0,501.74 L106.0,501.86 L107.0,501.98 L108.0,502.10 L109.0,502.21 L110.0,502.31 L111.0,502.38 L112.0,502.44 L113.0,502.45 L114.0,502.41 L115.0,502.32 L116.0,502.18 L117.0,501.99 L118.0,501.74 L119.0,501.45 L120.0,501.11 L121.0,500.75 L122.0,500.39 L123.0,500.04 L124.0,499.73 L125.0,499.46 L126.0,499.22 L127.0,499.01 L128.0,498.83 L129.0,498.69 L130.0,498.58 L131.0,498.50 L132.0,498.48 L133.0,498.52 L134.0,498.64 L135.0,498.81 L136.0,499.05 L137.0,499.32 L138.0,499.63 L139.0,499.95 L140.0,500.29 L141.0,500.64 L142.0,500.98 L143.0,501.32 L144.0,501.65 L145.0,501.97 L146.0,502.29 L147.0,502.61 L148.0,502.93 L149.0,503.24 L150.0,503.55 L151.0,503.85 L152.0,504.15 L153.0,504.45 L154.0,504.76 L155.0,505.06 L156.0,505.36 L157.0,505.66 L158.0,505.96 L159.0,506.24 L160.0,506.50 L161.0,506.75 L162.0,506.98 L163.0,507.19 L164.0,507.39 L165.0,507.58 L166.0,507.76 L167.0,507.94 L168.0,508.12 L169.0,508.28 L170.0,508.43 L171.0,508.57 L172.0,508.68 L173.0,508.77 L174.0,508.83 L175.0,508.87 L176.0,508.89 L177.0,508.89 L178.0,508.89 L179.0,508.88 L180.0,508.87 L181.0,508.86 L182.0,508.85 L183.0,508.83 L184.0,508.81 L185.0,508.79 L186.0,508.75 L187.0,508.69 L188.0,508.61 L189.0,508.52 L190.0,508.42 L191.0,508.31 L192.0,508.19 L193.0,508.08 L194.0,507.96 L195.0,507.84 L196.0,507.74 L197.0,507.67" fill="none" stroke="#eba18f" stroke-width="3.2" stroke-linejoin="round"/>
<line x1="64.50" y1="436.50" x2="64.50" y2="520.50" stroke="#676767" stroke-width="1.2" />
<line x1="59.50" y1="520.50" x2="197.00" y2="520.50" stroke="#676767" stroke-width="1.2" />
<line x1="59.50" y1="436.50" x2="64.50" y2="436.50" stroke="#676767" stroke-width="1.2" />
<text x="53.80" y="439.90" font-size="10.5" text-anchor="end" fill="#262626" font-weight="normal" textLength="23.20" lengthAdjust="spacingAndGlyphs" >0.05</text>
<text x="53.80" y="523.90" font-size="10.5" text-anchor="end" fill="#262626" font-weight="normal" >0</text>
<line x1="76.50" y1="520.50" x2="76.50" y2="526.00" stroke="#676767" stroke-width="1.2" />
<line x1="196.50" y1="520.50" x2="196.50" y2="526.00" stroke="#676767" stroke-width="1.2" />
<text x="76.80" y="539.80" font-size="10.5" text-anchor="middle" fill="#262626" font-weight="normal" textLength="11.80" lengthAdjust="spacingAndGlyphs" >20</text>
<text x="196.90" y="539.80" font-size="10.5" text-anchor="middle" fill="#262626" font-weight="normal" textLength="11.80" lengthAdjust="spacingAndGlyphs" >70</text>
<text x="141.20" y="448.2" font-size="10.2" fill="#262626" textLength="51.2" lengthAdjust="spacingAndGlyphs"><tspan font-style="italic">P</tspan> = 3 × 10<tspan font-size="7" dy="-5">−7</tspan></text>
<text x="148.80" y="466.2" font-size="10.6" fill="#262626" textLength="43.9" lengthAdjust="spacingAndGlyphs"><tspan font-style="italic">ρ</tspan> = −0.22</text>
<text x="120.10" y="558.30" font-size="12" text-anchor="start" fill="#262626" font-weight="normal" textLength="22.00" lengthAdjust="spacingAndGlyphs" >Age</text>
<text transform="translate(16.8,326.3) rotate(-90)" font-size="12" text-anchor="middle" fill="#262626" textLength="157" lengthAdjust="spacingAndGlyphs">Ki67<tspan font-size="7" dy="-5">+</tspan><tspan dy="5"> prop. of compartment</tspan></text>
<path d="M1.5,241.3 V413.4 L22.3,414.6 L10.5,416.9 V422.7" fill="none" stroke="#111" stroke-width="1.2" stroke-linejoin="miter" stroke-miterlimit="3"/>
<text x="427.10" y="15.30" font-size="12" text-anchor="start" fill="#262626" font-weight="normal" textLength="46.80" lengthAdjust="spacingAndGlyphs" >Age &lt;50</text>
<text x="560.80" y="15.30" font-size="12" text-anchor="start" fill="#262626" font-weight="normal" textLength="46.80" lengthAdjust="spacingAndGlyphs" >Age ≥50</text>
<line x1="390.00" y1="20.50" x2="513.60" y2="20.50" stroke="#bdbdbd" stroke-width="1.1" />
<path d="M387.4,20.5 L393,18.1 L391.6,20.5 L393,22.9 Z" fill="#bdbdbd" stroke="#bdbdbd" stroke-width="0.6" stroke-linejoin="round"/>
<line x1="520.20" y1="20.40" x2="645.00" y2="20.40" stroke="#717171" stroke-width="1.1" />
<path d="M648.7,20.4 L643.1,18 L644.5,20.4 L643.1,22.8 Z" fill="#717171" stroke="#717171" stroke-width="0.6" stroke-linejoin="round"/>
<text x="576.4" y="36.3" font-size="12" fill="#262626" textLength="60.8" lengthAdjust="spacingAndGlyphs">Adjusted <tspan font-style="italic">P</tspan></text>
<line x1="564.30" y1="38.50" x2="637.20" y2="38.50" stroke="#6e6e6e" stroke-width="1" />
<line x1="517.00" y1="39.80" x2="517.00" y2="503.00" stroke="#ababab" stroke-width="1.7" stroke-dasharray="5.2 6"/>
<line x1="405.50" y1="39.80" x2="405.50" y2="236.40" stroke="#6a6a6a" stroke-width="1.2" />
<line x1="635.50" y1="39.80" x2="635.50" y2="236.40" stroke="#3f3f3f" stroke-width="1.1" />
<rect x="398.90" y="42.00" width="6.20" height="16.00" fill="#9b6bd1" />
<text x="391.8" y="53.30" font-size="10.5" text-anchor="end" fill="#262626" textLength="50.80" lengthAdjust="spacingAndGlyphs">HR<tspan font-size="6.8" dy="-4">lo</tspan><tspan dy="4">Ki67</tspan><tspan font-size="6.8" dy="-4">enr</tspan></text>
<text x="565.3" y="55.30" font-size="12.5" fill="#262626" textLength="45.40" lengthAdjust="spacingAndGlyphs">4 <tspan font-size="10.5">×</tspan> 10<tspan font-size="8.3" dy="-5.8">−15</tspan></text>
<rect x="636.20" y="42.00" width="24.80" height="16.00" fill="#bfbfbf" />
<rect x="661.00" y="42.00" width="6.70" height="16.00" fill="#6a6a6a" />
<g stroke="#4d4d4d" stroke-width="1.2"><line x1="422.3" y1="50.20" x2="453.7" y2="50.20"/><line x1="422.3" y1="48.00" x2="422.3" y2="52.40"/><line x1="453.7" y1="48.00" x2="453.7" y2="52.40"/></g>
<circle cx="436.9" cy="50.20" r="6" fill="#a9d7e5" stroke="#1f1f1f" stroke-width="1.25"/>
<rect x="398.90" y="59.60" width="6.20" height="16.00" fill="#3f6fe0" />
<text x="391.8" y="70.90" font-size="10.5" text-anchor="end" fill="#262626" textLength="65.80" lengthAdjust="spacingAndGlyphs">GATA3/HR<tspan font-size="6.8" dy="-4">med</tspan></text>
<text x="565.3" y="72.90" font-size="12.5" fill="#262626" textLength="44.40" lengthAdjust="spacingAndGlyphs">3 <tspan font-size="10.5">×</tspan> 10<tspan font-size="8.3" dy="-5.8">−12</tspan></text>
<rect x="636.20" y="59.60" width="24.80" height="16.00" fill="#bfbfbf" />
<rect x="661.00" y="59.60" width="6.70" height="16.00" fill="#6a6a6a" />
<g stroke="#4d4d4d" stroke-width="1.2"><line x1="433.3" y1="67.80" x2="462.6" y2="67.80"/><line x1="433.3" y1="65.60" x2="433.3" y2="70.00"/><line x1="462.6" y1="65.60" x2="462.6" y2="70.00"/></g>
<circle cx="447.1" cy="67.80" r="6" fill="#a9d7e5" stroke="#1f1f1f" stroke-width="1.25"/>
<rect x="398.90" y="77.20" width="6.20" height="16.00" fill="#4a0086" />
<text x="391.8" y="88.50" font-size="10.5" text-anchor="end" fill="#262626" textLength="57.80" lengthAdjust="spacingAndGlyphs">GATA3/HR<tspan font-size="6.8" dy="-4">lo</tspan></text>
<text x="565.3" y="90.50" font-size="12.5" fill="#262626" textLength="44.40" lengthAdjust="spacingAndGlyphs">7 <tspan font-size="10.5">×</tspan> 10<tspan font-size="8.3" dy="-5.8">−13</tspan></text>
<rect x="636.20" y="77.20" width="25.10" height="16.00" fill="#bfbfbf" />
<rect x="661.30" y="77.20" width="7.10" height="16.00" fill="#6a6a6a" />
<g stroke="#4d4d4d" stroke-width="1.2"><line x1="434.5" y1="85.40" x2="462" y2="85.40"/><line x1="434.5" y1="83.20" x2="434.5" y2="87.60"/><line x1="462" y1="83.20" x2="462" y2="87.60"/></g>
<circle cx="447.3" cy="85.40" r="6" fill="#a9d7e5" stroke="#1f1f1f" stroke-width="1.25"/>
<rect x="398.90" y="94.80" width="6.20" height="16.00" fill="#3a00ee" />
<text x="391.8" y="106.10" font-size="10.5" text-anchor="end" fill="#262626" textLength="66.90" lengthAdjust="spacingAndGlyphs">MHC-I<tspan font-size="6.8" dy="-4">hi</tspan><tspan dy="4">Ki67</tspan><tspan font-size="6.8" dy="-4">enr</tspan></text>
<text x="565.3" y="108.10" font-size="12.5" fill="#262626" textLength="41.80" lengthAdjust="spacingAndGlyphs">5 <tspan font-size="10.5">×</tspan> 10<tspan font-size="8.3" dy="-5.8">−8</tspan></text>
<rect x="636.20" y="94.80" width="22.60" height="16.00" fill="#bfbfbf" />
<rect x="658.80" y="94.80" width="6.10" height="16.00" fill="#6a6a6a" />
<g stroke="#4d4d4d" stroke-width="1.2"><line x1="442.4" y1="103.00" x2="475.2" y2="103.00"/><line x1="442.4" y1="100.80" x2="442.4" y2="105.20"/><line x1="475.2" y1="100.80" x2="475.2" y2="105.20"/></g>
<circle cx="457.8" cy="103.00" r="6" fill="#a9d7e5" stroke="#1f1f1f" stroke-width="1.25"/>
<rect x="398.90" y="112.40" width="6.20" height="16.00" fill="#e3e3f7" />
<text x="391.8" y="123.70" font-size="10.5" text-anchor="end" fill="#262626" textLength="25.40" lengthAdjust="spacingAndGlyphs">TCF1<tspan font-size="6" dy="-4">+</tspan></text>
<text x="565.3" y="125.70" font-size="12.5" fill="#262626" textLength="42.40" lengthAdjust="spacingAndGlyphs">3 <tspan font-size="10.5">×</tspan> 10<tspan font-size="8.3" dy="-5.8">−9</tspan></text>
<rect x="636.20" y="112.40" width="24.40" height="16.00" fill="#bfbfbf" />
<rect x="660.60" y="112.40" width="6.40" height="16.00" fill="#6a6a6a" />
<g stroke="#4d4d4d" stroke-width="1.2"><line x1="451.2" y1="120.60" x2="474.5" y2="120.60"/><line x1="451.2" y1="118.40" x2="451.2" y2="122.80"/><line x1="474.5" y1="118.40" x2="474.5" y2="122.80"/></g>
<circle cx="462" cy="120.60" r="6" fill="#a9d7e5" stroke="#1f1f1f" stroke-width="1.25"/>
<rect x="398.90" y="130.00" width="6.20" height="16.00" fill="#40dfc8" />
<text x="391.8" y="141.30" font-size="10.5" text-anchor="end" fill="#262626" textLength="21.90" lengthAdjust="spacingAndGlyphs">CK7<tspan font-size="6" dy="-4">+</tspan></text>
<text x="565.3" y="143.30" font-size="12.5" fill="#262626" textLength="40.80" lengthAdjust="spacingAndGlyphs">2 <tspan font-size="10.5">×</tspan> 10<tspan font-size="8.3" dy="-5.8">−7</tspan></text>
<rect x="636.20" y="130.00" width="24.00" height="16.00" fill="#bfbfbf" />
<rect x="660.20" y="130.00" width="7.30" height="16.00" fill="#6a6a6a" />
<g stroke="#4d4d4d" stroke-width="1.2"><line x1="446.4" y1="138.20" x2="481.7" y2="138.20"/><line x1="446.4" y1="136.00" x2="446.4" y2="140.40"/><line x1="481.7" y1="136.00" x2="481.7" y2="140.40"/></g>
<circle cx="462.8" cy="138.20" r="6" fill="#a9d7e5" stroke="#1f1f1f" stroke-width="1.25"/>
<rect x="398.90" y="147.60" width="6.20" height="16.00" fill="#7ff2f0" />
<text x="391.8" y="158.90" font-size="10.5" text-anchor="end" fill="#262626" textLength="27.70" lengthAdjust="spacingAndGlyphs">CD15<tspan font-size="6" dy="-4">+</tspan></text>
<text x="565.3" y="160.90" font-size="12.5" fill="#262626" textLength="41.90" lengthAdjust="spacingAndGlyphs">3 <tspan font-size="10.5">×</tspan> 10<tspan font-size="8.3" dy="-5.8">−5</tspan></text>
<rect x="636.20" y="147.60" width="23.80" height="16.00" fill="#bfbfbf" />
<rect x="660.00" y="147.60" width="6.60" height="16.00" fill="#6a6a6a" />
<g stroke="#4d4d4d" stroke-width="1.2"><line x1="463.5" y1="155.80" x2="491.9" y2="155.80"/><line x1="463.5" y1="153.60" x2="463.5" y2="158.00"/><line x1="491.9" y1="153.60" x2="491.9" y2="158.00"/></g>
<circle cx="477.4" cy="155.80" r="6" fill="#a9d7e5" stroke="#1f1f1f" stroke-width="1.25"/>
<rect x="398.90" y="165.20" width="6.20" height="16.00" fill="#007a78" />
<text x="391.8" y="176.50" font-size="10.5" text-anchor="end" fill="#262626" textLength="18.10" lengthAdjust="spacingAndGlyphs">AR<tspan font-size="6.8" dy="-4">hi</tspan></text>
<text x="565.3" y="178.50" font-size="12.5" fill="#262626" textLength="41.90" lengthAdjust="spacingAndGlyphs">2 <tspan font-size="10.5">×</tspan> 10<tspan font-size="8.3" dy="-5.8">−4</tspan></text>
<rect x="636.20" y="165.20" width="20.80" height="16.00" fill="#bfbfbf" />
<rect x="657.00" y="165.20" width="4.30" height="16.00" fill="#6a6a6a" />
<g stroke="#4d4d4d" stroke-width="1.2"><line x1="465.6" y1="173.40" x2="490.6" y2="173.40"/><line x1="465.6" y1="171.20" x2="465.6" y2="175.60"/><line x1="490.6" y1="171.20" x2="490.6" y2="175.60"/></g>
<circle cx="477.8" cy="173.40" r="6" fill="#a9d7e5" stroke="#1f1f1f" stroke-width="1.25"/>
<rect x="398.90" y="182.80" width="6.20" height="16.00" fill="#8ec6e6" />
<text x="391.8" y="194.10" font-size="10.5" text-anchor="end" fill="#262626" textLength="57.70" lengthAdjust="spacingAndGlyphs">GATA3/HR<tspan font-size="6.8" dy="-4">hi</tspan></text>
<text x="565.3" y="196.10" font-size="12.5" fill="#262626" textLength="41.90" lengthAdjust="spacingAndGlyphs">9 <tspan font-size="10.5">×</tspan> 10<tspan font-size="8.3" dy="-5.8">−4</tspan></text>
<rect x="636.20" y="182.80" width="21.60" height="16.00" fill="#bfbfbf" />
<rect x="657.80" y="182.80" width="4.50" height="16.00" fill="#6a6a6a" />
<g stroke="#4d4d4d" stroke-width="1.2"><line x1="472.7" y1="191.00" x2="497.3" y2="191.00"/><line x1="472.7" y1="188.80" x2="472.7" y2="193.20"/><line x1="497.3" y1="188.80" x2="497.3" y2="193.20"/></g>
<circle cx="484.4" cy="191.00" r="6" fill="#a9d7e5" stroke="#1f1f1f" stroke-width="1.25"/>
<rect x="398.90" y="200.40" width="6.20" height="16.00" fill="#0047ab" />
<text x="391.8" y="211.70" font-size="10.5" text-anchor="end" fill="#262626" textLength="65.30" lengthAdjust="spacingAndGlyphs">Myoepithelial</text>
<text x="565.3" y="213.70" font-size="12.5" fill="#262626" textLength="41.90" lengthAdjust="spacingAndGlyphs">8 <tspan font-size="10.5">×</tspan> 10<tspan font-size="8.3" dy="-5.8">−4</tspan></text>
<rect x="636.20" y="200.40" width="24.00" height="16.00" fill="#bfbfbf" />
<rect x="660.20" y="200.40" width="6.80" height="16.00" fill="#6a6a6a" />
<g stroke="#4d4d4d" stroke-width="1.2"><line x1="482.7" y1="208.60" x2="503.5" y2="208.60"/><line x1="482.7" y1="206.40" x2="482.7" y2="210.80"/><line x1="503.5" y1="206.40" x2="503.5" y2="210.80"/></g>
<circle cx="492.6" cy="208.60" r="6" fill="#a9d7e5" stroke="#1f1f1f" stroke-width="1.25"/>
<rect x="398.90" y="218.00" width="6.20" height="16.00" fill="#8a00f5" />
<text x="391.8" y="229.30" font-size="10.5" text-anchor="end" fill="#262626" textLength="24.10" lengthAdjust="spacingAndGlyphs">Basal</text>
<text x="565.20" y="232.00" font-size="12.5" text-anchor="start" fill="#262626" font-weight="normal" textLength="27.20" lengthAdjust="spacingAndGlyphs" >0.04</text>
<rect x="636.20" y="218.00" width="23.80" height="16.00" fill="#bfbfbf" />
<rect x="660.00" y="218.00" width="7.50" height="16.00" fill="#6a6a6a" />
<g stroke="#4d4d4d" stroke-width="1.2"><line x1="484.4" y1="226.20" x2="514.8" y2="226.20"/><line x1="484.4" y1="224.00" x2="484.4" y2="228.40"/><line x1="514.8" y1="224.00" x2="514.8" y2="228.40"/></g>
<circle cx="499" cy="226.20" r="6" fill="#a9d7e5" stroke="#1f1f1f" stroke-width="1.25"/>
<line x1="405.50" y1="243.60" x2="405.50" y2="387.80" stroke="#6a6a6a" stroke-width="1.2" />
<line x1="635.50" y1="243.60" x2="635.50" y2="387.80" stroke="#3f3f3f" stroke-width="1.1" />
<rect x="398.90" y="245.80" width="6.20" height="16.00" fill="#ff8c00" />
<text x="391.8" y="257.10" font-size="10.5" text-anchor="end" fill="#262626" textLength="24.20" lengthAdjust="spacingAndGlyphs">APCs</text>
<text x="565.3" y="259.10" font-size="12.5" fill="#262626" textLength="41.90" lengthAdjust="spacingAndGlyphs">6 <tspan font-size="10.5">×</tspan> 10<tspan font-size="8.3" dy="-5.8">−4</tspan></text>
<rect x="636.20" y="245.80" width="24.80" height="16.00" fill="#bfbfbf" />
<rect x="661.00" y="245.80" width="8.00" height="16.00" fill="#6a6a6a" />
<g stroke="#4d4d4d" stroke-width="1.2"><line x1="465.5" y1="254.00" x2="502.3" y2="254.00"/><line x1="465.5" y1="251.80" x2="465.5" y2="256.20"/><line x1="502.3" y1="251.80" x2="502.3" y2="256.20"/></g>
<circle cx="483.4" cy="254.00" r="6" fill="#a9d7e5" stroke="#1f1f1f" stroke-width="1.25"/>
<rect x="398.90" y="263.40" width="6.20" height="16.00" fill="#ffd400" />
<text x="391.8" y="274.70" font-size="10.5" text-anchor="end" fill="#262626" textLength="32.90" lengthAdjust="spacingAndGlyphs">M2 Mϕ</text>
<text x="565.3" y="276.70" font-size="12.5" fill="#262626" textLength="41.90" lengthAdjust="spacingAndGlyphs">3 <tspan font-size="10.5">×</tspan> 10<tspan font-size="8.3" dy="-5.8">−4</tspan></text>
<rect x="636.20" y="263.40" width="24.80" height="16.00" fill="#bfbfbf" />
<rect x="661.00" y="263.40" width="8.00" height="16.00" fill="#6a6a6a" />
<g stroke="#4d4d4d" stroke-width="1.2"><line x1="472.2" y1="271.60" x2="500.6" y2="271.60"/><line x1="472.2" y1="269.40" x2="472.2" y2="273.80"/><line x1="500.6" y1="269.40" x2="500.6" y2="273.80"/></g>
<circle cx="486" cy="271.60" r="6" fill="#a9d7e5" stroke="#1f1f1f" stroke-width="1.25"/>
<rect x="398.90" y="281.00" width="6.20" height="16.00" fill="#e0f5d6" />
<text x="391.8" y="292.30" font-size="10.5" text-anchor="end" fill="#262626" textLength="32.00" lengthAdjust="spacingAndGlyphs">CD8<tspan font-size="6" dy="-4">+</tspan><tspan dy="4"> T</tspan></text>
<text x="565.20" y="295.00" font-size="12.5" text-anchor="start" fill="#262626" font-weight="normal" textLength="35.10" lengthAdjust="spacingAndGlyphs" >0.002</text>
<rect x="636.20" y="281.00" width="24.80" height="16.00" fill="#bfbfbf" />
<rect x="661.00" y="281.00" width="7.70" height="16.00" fill="#6a6a6a" />
<g stroke="#4d4d4d" stroke-width="1.2"><line x1="475.7" y1="289.20" x2="505.8" y2="289.20"/><line x1="475.7" y1="287.00" x2="475.7" y2="291.40"/><line x1="505.8" y1="287.00" x2="505.8" y2="291.40"/></g>
<circle cx="490.4" cy="289.20" r="6" fill="#a9d7e5" stroke="#1f1f1f" stroke-width="1.25"/>
<rect x="398.90" y="298.60" width="6.20" height="16.00" fill="#2fde6c" />
<text x="391.8" y="309.90" font-size="10.5" text-anchor="end" fill="#262626" textLength="32.00" lengthAdjust="spacingAndGlyphs">CD4<tspan font-size="6" dy="-4">+</tspan><tspan dy="4"> T</tspan></text>
<text x="565.20" y="312.60" font-size="12.5" text-anchor="start" fill="#262626" font-weight="normal" textLength="35.10" lengthAdjust="spacingAndGlyphs" >0.003</text>
<rect x="636.20" y="298.60" width="24.80" height="16.00" fill="#bfbfbf" />
<rect x="661.00" y="298.60" width="7.70" height="16.00" fill="#6a6a6a" />
<g stroke="#4d4d4d" stroke-width="1.2"><line x1="479.6" y1="306.80" x2="507.2" y2="306.80"/><line x1="479.6" y1="304.60" x2="479.6" y2="309.00"/><line x1="507.2" y1="304.60" x2="507.2" y2="309.00"/></g>
<circle cx="493.2" cy="306.80" r="6" fill="#a9d7e5" stroke="#1f1f1f" stroke-width="1.25"/>
<rect x="398.90" y="316.20" width="6.20" height="16.00" fill="#3b420f" />
<text x="391.8" y="327.50" font-size="10.5" text-anchor="end" fill="#262626" textLength="34.00" lengthAdjust="spacingAndGlyphs">Plasma</text>
<text x="565.20" y="330.20" font-size="12.5" text-anchor="start" fill="#262626" font-weight="normal" textLength="35.10" lengthAdjust="spacingAndGlyphs" >0.002</text>
<rect x="636.20" y="316.20" width="24.80" height="16.00" fill="#bfbfbf" />
<rect x="661.00" y="316.20" width="7.70" height="16.00" fill="#6a6a6a" />
<g stroke="#4d4d4d" stroke-width="1.2"><line x1="497" y1="324.40" x2="506" y2="324.40"/><line x1="497" y1="322.20" x2="497" y2="326.60"/><line x1="506" y1="322.20" x2="506" y2="326.60"/></g>
<circle cx="501.4" cy="324.40" r="6" fill="#a9d7e5" stroke="#1f1f1f" stroke-width="1.25"/>
<rect x="398.90" y="333.80" width="6.20" height="16.00" fill="#b2f000" />
<text x="391.8" y="345.10" font-size="10.5" text-anchor="end" fill="#262626" textLength="39.40" lengthAdjust="spacingAndGlyphs">CD20<tspan font-size="6" dy="-4">+</tspan><tspan dy="4"> B</tspan></text>
<text x="565.20" y="347.80" font-size="12.5" text-anchor="start" fill="#262626" font-weight="normal" textLength="27.20" lengthAdjust="spacingAndGlyphs" >0.02</text>
<rect x="636.20" y="333.80" width="23.10" height="16.00" fill="#bfbfbf" />
<rect x="659.30" y="333.80" width="6.30" height="16.00" fill="#6a6a6a" />
<g stroke="#4d4d4d" stroke-width="1.2"><line x1="497.5" y1="342.00" x2="511.3" y2="342.00"/><line x1="497.5" y1="339.80" x2="497.5" y2="344.20"/><line x1="511.3" y1="339.80" x2="511.3" y2="344.20"/></g>
<circle cx="504.2" cy="342.00" r="6" fill="#a9d7e5" stroke="#1f1f1f" stroke-width="1.25"/>
<rect x="398.90" y="351.40" width="6.20" height="16.00" fill="#a0573f" />
<text x="391.8" y="362.70" font-size="10.5" text-anchor="end" fill="#262626" textLength="31.70" lengthAdjust="spacingAndGlyphs">M1 Mϕ</text>
<text x="565.20" y="365.40" font-size="12.5" text-anchor="start" fill="#262626" font-weight="normal" textLength="27.20" lengthAdjust="spacingAndGlyphs" >0.05</text>
<rect x="636.20" y="351.40" width="24.80" height="16.00" fill="#bfbfbf" />
<rect x="661.00" y="351.40" width="8.00" height="16.00" fill="#6a6a6a" />
<g stroke="#4d4d4d" stroke-width="1.2"><line x1="505" y1="359.60" x2="514" y2="359.60"/><line x1="505" y1="357.40" x2="505" y2="361.80"/><line x1="514" y1="357.40" x2="514" y2="361.80"/></g>
<circle cx="509.5" cy="359.60" r="6" fill="#a9d7e5" stroke="#1f1f1f" stroke-width="1.25"/>
<rect x="398.90" y="369.00" width="6.20" height="16.00" fill="#fff9c0" />
<text x="391.8" y="380.30" font-size="10.5" text-anchor="end" fill="#262626" textLength="55.80" lengthAdjust="spacingAndGlyphs">Neutrophils</text>
<text x="565.20" y="383.00" font-size="12.5" text-anchor="start" fill="#262626" font-weight="normal" textLength="18.90" lengthAdjust="spacingAndGlyphs" >0.6</text>
<rect x="636.20" y="369.00" width="22.00" height="16.00" fill="#bfbfbf" />
<rect x="658.20" y="369.00" width="6.60" height="16.00" fill="#6a6a6a" />
<circle cx="515.3" cy="377.20" r="6" fill="#3e3e3e" stroke="#2a2a2a" stroke-width="1"/>
<line x1="405.50" y1="394.70" x2="405.50" y2="503.30" stroke="#6a6a6a" stroke-width="1.2" />
<line x1="635.50" y1="394.70" x2="635.50" y2="503.30" stroke="#3f3f3f" stroke-width="1.1" />
<rect x="398.90" y="396.90" width="6.20" height="16.00" fill="#ff2d1e" />
<text x="391.8" y="408.20" font-size="10.5" text-anchor="end" fill="#262626" textLength="54.20" lengthAdjust="spacingAndGlyphs">Endothelial</text>
<text x="565.3" y="410.20" font-size="12.5" fill="#262626" textLength="41.90" lengthAdjust="spacingAndGlyphs">2 <tspan font-size="10.5">×</tspan> 10<tspan font-size="8.3" dy="-5.8">−6</tspan></text>
<rect x="636.20" y="396.90" width="24.80" height="16.00" fill="#bfbfbf" />
<rect x="661.00" y="396.90" width="7.70" height="16.00" fill="#6a6a6a" />
<g stroke="#4d4d4d" stroke-width="1.2"><line x1="467.4" y1="405.10" x2="489.8" y2="405.10"/><line x1="467.4" y1="402.90" x2="467.4" y2="407.30"/><line x1="489.8" y1="402.90" x2="489.8" y2="407.30"/></g>
<circle cx="478.5" cy="405.10" r="6" fill="#a9d7e5" stroke="#1f1f1f" stroke-width="1.25"/>
<rect x="398.90" y="414.50" width="6.20" height="16.00" fill="#c9a1b8" />
<text x="391.8" y="425.80" font-size="10.5" text-anchor="end" fill="#262626" textLength="53.20" lengthAdjust="spacingAndGlyphs">Fibroblasts</text>
<text x="565.3" y="427.80" font-size="12.5" fill="#262626" textLength="39.40" lengthAdjust="spacingAndGlyphs">1 <tspan font-size="10.5">×</tspan> 10<tspan font-size="8.3" dy="-5.8">−5</tspan></text>
<rect x="636.20" y="414.50" width="24.80" height="16.00" fill="#bfbfbf" />
<rect x="661.00" y="414.50" width="7.70" height="16.00" fill="#6a6a6a" />
<g stroke="#4d4d4d" stroke-width="1.2"><line x1="471.4" y1="422.70" x2="493.8" y2="422.70"/><line x1="471.4" y1="420.50" x2="471.4" y2="424.90"/><line x1="493.8" y1="420.50" x2="493.8" y2="424.90"/></g>
<circle cx="482.5" cy="422.70" r="6" fill="#a9d7e5" stroke="#1f1f1f" stroke-width="1.25"/>
<rect x="398.90" y="432.10" width="6.20" height="16.00" fill="#d9a08f" />
<text x="391.8" y="443.40" font-size="10.5" text-anchor="end" fill="#262626" textLength="76.10" lengthAdjust="spacingAndGlyphs">PDGFRβ<tspan font-size="6" dy="-4">+</tspan><tspan dy="4">stroma</tspan></text>
<text x="565.3" y="445.40" font-size="12.5" fill="#262626" textLength="41.90" lengthAdjust="spacingAndGlyphs">8 <tspan font-size="10.5">×</tspan> 10<tspan font-size="8.3" dy="-5.8">−6</tspan></text>
<rect x="636.20" y="432.10" width="24.40" height="16.00" fill="#bfbfbf" />
<rect x="660.60" y="432.10" width="7.70" height="16.00" fill="#6a6a6a" />
<g stroke="#4d4d4d" stroke-width="1.2"><line x1="479.5" y1="440.30" x2="495.1" y2="440.30"/><line x1="479.5" y1="438.10" x2="479.5" y2="442.50"/><line x1="495.1" y1="438.10" x2="495.1" y2="442.50"/></g>
<circle cx="487" cy="440.30" r="6" fill="#a9d7e5" stroke="#1f1f1f" stroke-width="1.25"/>
<rect x="398.90" y="449.70" width="6.20" height="16.00" fill="#ffc2d6" />
<text x="391.8" y="461.00" font-size="10.5" text-anchor="end" fill="#262626" textLength="58.90" lengthAdjust="spacingAndGlyphs">Perivascular</text>
<text x="565.3" y="463.00" font-size="12.5" fill="#262626" textLength="39.40" lengthAdjust="spacingAndGlyphs">1 <tspan font-size="10.5">×</tspan> 10<tspan font-size="8.3" dy="-5.8">−4</tspan></text>
<rect x="636.20" y="449.70" width="24.80" height="16.00" fill="#bfbfbf" />
<rect x="661.00" y="449.70" width="7.50" height="16.00" fill="#6a6a6a" />
<g stroke="#4d4d4d" stroke-width="1.2"><line x1="482.3" y1="457.90" x2="499.4" y2="457.90"/><line x1="482.3" y1="455.70" x2="482.3" y2="460.10"/><line x1="499.4" y1="455.70" x2="499.4" y2="460.10"/></g>
<circle cx="490.6" cy="457.90" r="6" fill="#a9d7e5" stroke="#1f1f1f" stroke-width="1.25"/>
<rect x="398.90" y="467.30" width="6.20" height="16.00" fill="#e2dbe0" />
<text x="391.8" y="478.60" font-size="10.5" text-anchor="end" fill="#262626" textLength="63.70" lengthAdjust="spacingAndGlyphs">PDPN<tspan font-size="6" dy="-4">+</tspan><tspan dy="4">stroma</tspan></text>
<text x="565.20" y="481.30" font-size="12.5" text-anchor="start" fill="#262626" font-weight="normal" textLength="35.10" lengthAdjust="spacingAndGlyphs" >0.005</text>
<rect x="636.20" y="467.30" width="23.80" height="16.00" fill="#bfbfbf" />
<rect x="660.00" y="467.30" width="7.50" height="16.00" fill="#6a6a6a" />
<g stroke="#4d4d4d" stroke-width="1.2"><line x1="493" y1="475.50" x2="509" y2="475.50"/><line x1="493" y1="473.30" x2="493" y2="477.70"/><line x1="509" y1="473.30" x2="509" y2="477.70"/></g>
<circle cx="500.9" cy="475.50" r="6" fill="#a9d7e5" stroke="#1f1f1f" stroke-width="1.25"/>
<rect x="398.90" y="484.90" width="6.20" height="16.00" fill="#c443a0" />
<text x="391.8" y="496.20" font-size="10.5" text-anchor="end" fill="#262626" textLength="71.70" lengthAdjust="spacingAndGlyphs">Myofibroblasts</text>
<text x="565.20" y="498.90" font-size="12.5" text-anchor="start" fill="#262626" font-weight="normal" textLength="27.20" lengthAdjust="spacingAndGlyphs" >0.01</text>
<rect x="636.20" y="484.90" width="24.80" height="16.00" fill="#bfbfbf" />
<rect x="661.00" y="484.90" width="7.70" height="16.00" fill="#6a6a6a" />
<g stroke="#4d4d4d" stroke-width="1.2"><line x1="502" y1="493.10" x2="510" y2="493.10"/><line x1="502" y1="490.90" x2="502" y2="495.30"/><line x1="510" y1="490.90" x2="510" y2="495.30"/></g>
<circle cx="506.2" cy="493.10" r="6" fill="#a9d7e5" stroke="#1f1f1f" stroke-width="1.25"/>
<line x1="405.00" y1="503.50" x2="572.00" y2="503.50" stroke="#676767" stroke-width="1.3" />
<line x1="420.50" y1="503.50" x2="420.50" y2="507.80" stroke="#676767" stroke-width="1.2" />
<text x="409.70" y="521.50" font-size="10.5" text-anchor="start" fill="#262626" font-weight="normal" textLength="21.80" lengthAdjust="spacingAndGlyphs" >−0.6</text>
<line x1="468.50" y1="503.50" x2="468.50" y2="507.80" stroke="#676767" stroke-width="1.2" />
<text x="457.90" y="521.50" font-size="10.5" text-anchor="start" fill="#262626" font-weight="normal" textLength="21.20" lengthAdjust="spacingAndGlyphs" >−0.3</text>
<line x1="516.80" y1="503.50" x2="516.80" y2="507.80" stroke="#676767" stroke-width="1.2" />
<text x="516.80" y="521.50" font-size="10.5" text-anchor="middle" fill="#262626" font-weight="normal" >0</text>
<line x1="565.00" y1="503.50" x2="565.00" y2="507.80" stroke="#676767" stroke-width="1.2" />
<text x="557.20" y="521.50" font-size="10.5" text-anchor="start" fill="#262626" font-weight="normal" textLength="15.90" lengthAdjust="spacingAndGlyphs" >0.3</text>
<text x="426.60" y="541.10" font-size="12" text-anchor="start" fill="#262626" font-weight="normal" textLength="124.60" lengthAdjust="spacingAndGlyphs" >Cliff’s delta effect size</text>
<line x1="635.50" y1="503.80" x2="668.10" y2="503.80" stroke="#3f3f3f" stroke-width="1.1" />
<line x1="635.50" y1="503.80" x2="635.50" y2="507.30" stroke="#3f3f3f" stroke-width="1" />
<line x1="667.60" y1="503.80" x2="667.60" y2="507.30" stroke="#3f3f3f" stroke-width="1" />
<text x="635.30" y="521.50" font-size="10.5" text-anchor="middle" fill="#262626" font-weight="normal" >0</text>
<text x="667.10" y="521.50" font-size="10.5" text-anchor="middle" fill="#262626" font-weight="normal" textLength="19.50" lengthAdjust="spacingAndGlyphs" >500</text>
<text x="619" y="541.4" font-size="12" fill="#262626" textLength="67" lengthAdjust="spacingAndGlyphs"><tspan font-style="italic">n</tspan> (&lt;50/≥50)</text>
<text transform="translate(309.8,271.9) rotate(-90)" font-size="12.3" text-anchor="middle" fill="#262626" textLength="157" lengthAdjust="spacingAndGlyphs">Higher proliferative fraction</text>
<g stroke="#9a9a9a" stroke-width="1.2"><line x1="264.2" y1="523.5" x2="303.9" y2="523.5"/><line x1="264.2" y1="521" x2="264.2" y2="526"/><line x1="303.9" y1="521" x2="303.9" y2="526"/></g>
<circle cx="284.2" cy="523.5" r="6.1" fill="#3e3e3e" stroke="#2a2a2a" stroke-width="1"/>
<text x="310.20" y="527.50" font-size="12" text-anchor="start" fill="#262626" font-weight="normal" textLength="16.00" lengthAdjust="spacingAndGlyphs" >NS</text>
<g stroke="#1f1f1f" stroke-width="1.3"><line x1="264.2" y1="540.6" x2="303.9" y2="540.6"/><line x1="264.2" y1="538" x2="264.2" y2="543.2"/><line x1="303.9" y1="538" x2="303.9" y2="543.2"/></g>
<circle cx="284.2" cy="540.6" r="6.1" fill="#a9d7e5" stroke="#1f1f1f" stroke-width="1.3"/>
<text x="310.2" y="544.4" font-size="12" fill="#262626"><tspan font-style="italic">P</tspan> &lt; 0.05</text>
</svg>
</body></html>
